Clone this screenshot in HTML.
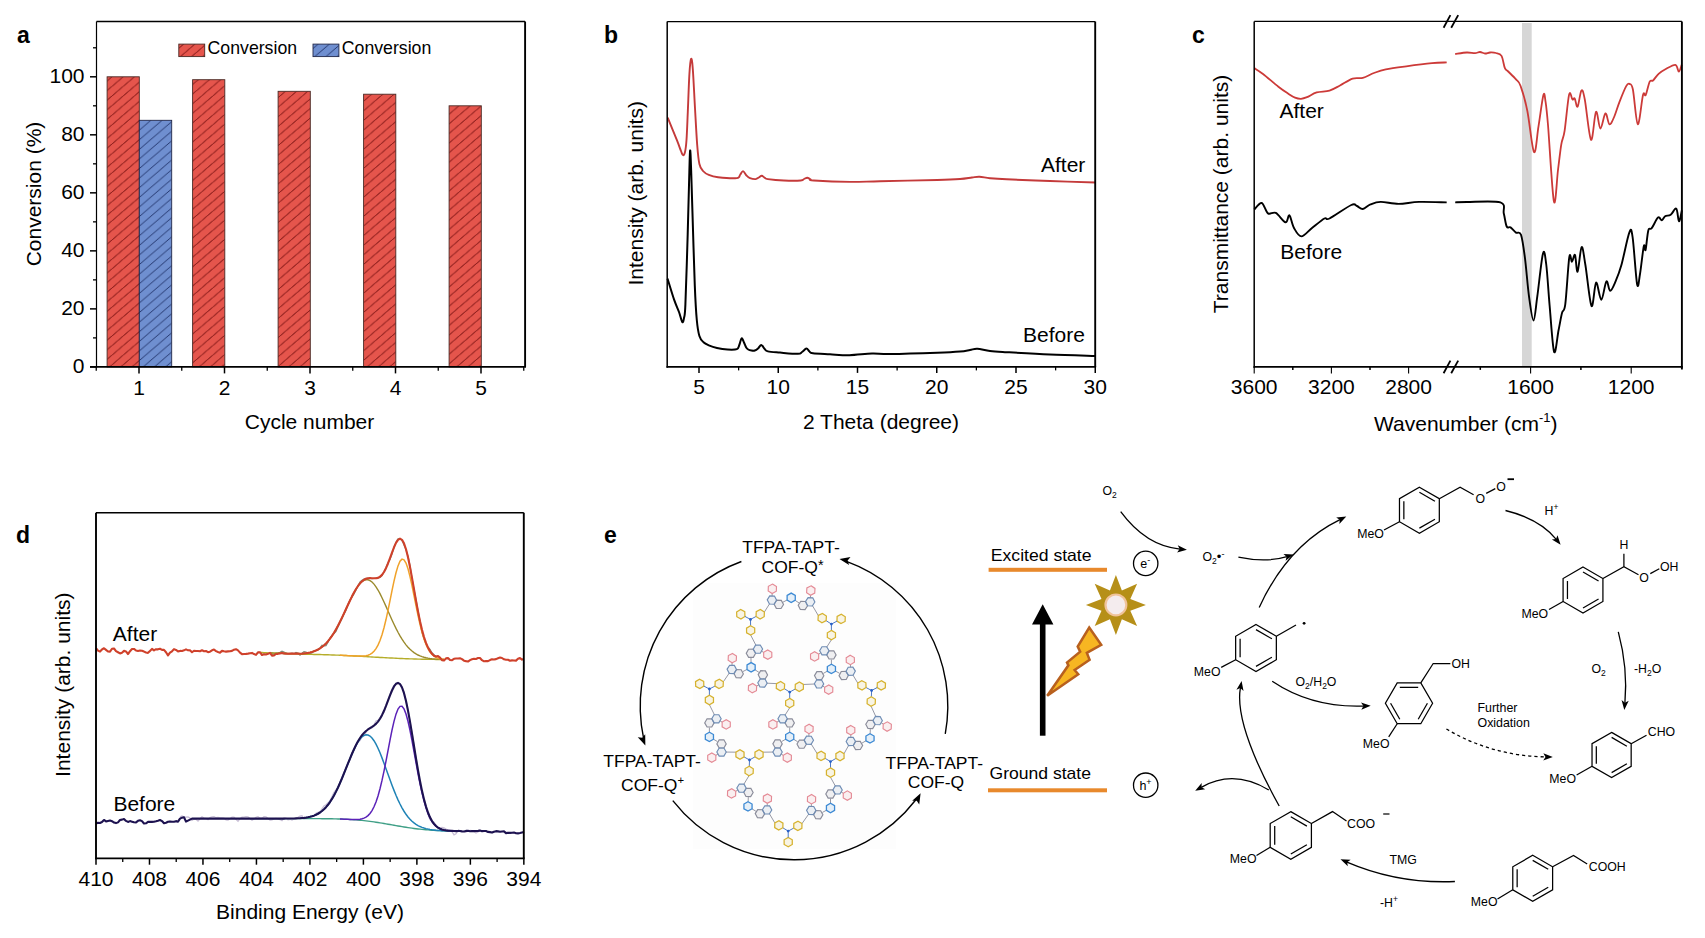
<!DOCTYPE html>
<html><head><meta charset="utf-8"><title>Figure</title>
<style>html,body{margin:0;padding:0;background:#fff;width:1705px;height:938px;overflow:hidden}svg{display:block}</style>
</head><body>
<svg width="1705" height="938" viewBox="0 0 1705 938" font-family='"Liberation Sans", sans-serif'>
<defs><pattern id="hr" patternUnits="userSpaceOnUse" width="11.2" height="9.6" patternTransform="translate(0,0)"><rect width="11.2" height="9.6" fill="#e5554c"/><path d="M-11.2,9.6 L11.2,-9.6 M0,9.6 L11.2,0 M0,19.2 L22.4,0 M-2.8,12 L13.9,-2.4" stroke="#8e1f1c" stroke-width="0.9" fill="none"/></pattern><pattern id="hb" patternUnits="userSpaceOnUse" width="11.2" height="9.6"><rect width="11.2" height="9.6" fill="#6f8fd0"/><path d="M0,9.6 L11.2,0 M-5.6,4.8 L5.6,-4.8 M5.6,14.4 L16.8,4.8" stroke="#1d2f66" stroke-width="0.9" fill="none"/></pattern></defs>
<rect x="107.1" y="76.8" width="32.2" height="290.1" fill="url(#hr)" stroke="#4a2a25" stroke-width="0.9"/>
<rect x="192.6" y="79.7" width="32.2" height="287.2" fill="url(#hr)" stroke="#4a2a25" stroke-width="0.9"/>
<rect x="278.1" y="91.31" width="32.2" height="275.59" fill="url(#hr)" stroke="#4a2a25" stroke-width="0.9"/>
<rect x="363.6" y="94.21" width="32.2" height="272.69" fill="url(#hr)" stroke="#4a2a25" stroke-width="0.9"/>
<rect x="449.1" y="105.81" width="32.2" height="261.09" fill="url(#hr)" stroke="#4a2a25" stroke-width="0.9"/>
<rect x="139.3" y="120.31" width="32.4" height="246.58" fill="url(#hb)" stroke="#22284a" stroke-width="0.9"/>
<line x1="96.5" y1="21.5" x2="525.1" y2="21.5" stroke="#000" stroke-width="1.3"/>
<line x1="525.1" y1="21.5" x2="525.1" y2="366.9" stroke="#000" stroke-width="1.9"/>
<line x1="96.5" y1="21.5" x2="96.5" y2="367.7" stroke="#000" stroke-width="1.2"/>
<line x1="90" y1="366.9" x2="526" y2="366.9" stroke="#000" stroke-width="1.7"/>
<line x1="90" y1="366.9" x2="96.5" y2="366.9" stroke="#000" stroke-width="1.5"/>
<text x="84.5" y="372.8" font-size="21" text-anchor="end" font-weight="normal" fill="#000">0</text>
<line x1="93" y1="337.89" x2="96.5" y2="337.89" stroke="#000" stroke-width="1.3"/>
<line x1="90" y1="308.88" x2="96.5" y2="308.88" stroke="#000" stroke-width="1.5"/>
<text x="84.5" y="314.78" font-size="21" text-anchor="end" font-weight="normal" fill="#000">20</text>
<line x1="93" y1="279.87" x2="96.5" y2="279.87" stroke="#000" stroke-width="1.3"/>
<line x1="90" y1="250.86" x2="96.5" y2="250.86" stroke="#000" stroke-width="1.5"/>
<text x="84.5" y="256.76" font-size="21" text-anchor="end" font-weight="normal" fill="#000">40</text>
<line x1="93" y1="221.85" x2="96.5" y2="221.85" stroke="#000" stroke-width="1.3"/>
<line x1="90" y1="192.84" x2="96.5" y2="192.84" stroke="#000" stroke-width="1.5"/>
<text x="84.5" y="198.74" font-size="21" text-anchor="end" font-weight="normal" fill="#000">60</text>
<line x1="93" y1="163.83" x2="96.5" y2="163.83" stroke="#000" stroke-width="1.3"/>
<line x1="90" y1="134.82" x2="96.5" y2="134.82" stroke="#000" stroke-width="1.5"/>
<text x="84.5" y="140.72" font-size="21" text-anchor="end" font-weight="normal" fill="#000">80</text>
<line x1="93" y1="105.81" x2="96.5" y2="105.81" stroke="#000" stroke-width="1.3"/>
<line x1="90" y1="76.8" x2="96.5" y2="76.8" stroke="#000" stroke-width="1.5"/>
<text x="84.5" y="82.7" font-size="21" text-anchor="end" font-weight="normal" fill="#000">100</text>
<line x1="93" y1="47.79" x2="96.5" y2="47.79" stroke="#000" stroke-width="1.3"/>
<line x1="139" y1="366.9" x2="139" y2="373.4" stroke="#000" stroke-width="1.5"/>
<text x="139" y="395" font-size="21" text-anchor="middle" font-weight="normal" fill="#000">1</text>
<line x1="224.5" y1="366.9" x2="224.5" y2="373.4" stroke="#000" stroke-width="1.5"/>
<text x="224.5" y="395" font-size="21" text-anchor="middle" font-weight="normal" fill="#000">2</text>
<line x1="310" y1="366.9" x2="310" y2="373.4" stroke="#000" stroke-width="1.5"/>
<text x="310" y="395" font-size="21" text-anchor="middle" font-weight="normal" fill="#000">3</text>
<line x1="395.5" y1="366.9" x2="395.5" y2="373.4" stroke="#000" stroke-width="1.5"/>
<text x="395.5" y="395" font-size="21" text-anchor="middle" font-weight="normal" fill="#000">4</text>
<line x1="481" y1="366.9" x2="481" y2="373.4" stroke="#000" stroke-width="1.5"/>
<text x="481" y="395" font-size="21" text-anchor="middle" font-weight="normal" fill="#000">5</text>
<line x1="96.25" y1="366.9" x2="96.25" y2="370.7" stroke="#000" stroke-width="1.3"/>
<line x1="181.75" y1="366.9" x2="181.75" y2="370.7" stroke="#000" stroke-width="1.3"/>
<line x1="267.25" y1="366.9" x2="267.25" y2="370.7" stroke="#000" stroke-width="1.3"/>
<line x1="352.75" y1="366.9" x2="352.75" y2="370.7" stroke="#000" stroke-width="1.3"/>
<line x1="438.25" y1="366.9" x2="438.25" y2="370.7" stroke="#000" stroke-width="1.3"/>
<line x1="523.75" y1="366.9" x2="523.75" y2="370.7" stroke="#000" stroke-width="1.3"/>
<text x="309.5" y="428.5" font-size="21" text-anchor="middle" font-weight="normal" fill="#000">Cycle number</text>
<text x="41.3" y="194" font-size="21" text-anchor="middle" font-weight="normal" fill="#000" transform="rotate(-90 41.3 194)">Conversion (%)</text>
<text x="17" y="43" font-size="23" text-anchor="start" font-weight="bold" fill="#000">a</text>
<rect x="178.8" y="44.1" width="25.9" height="12.5" fill="url(#hr)" stroke="#4a2a25" stroke-width="0.9"/>
<text x="207.6" y="53.7" font-size="17.7" text-anchor="start" font-weight="normal" fill="#000">Conversion</text>
<rect x="313" y="44.1" width="25.9" height="12.5" fill="url(#hb)" stroke="#22284a" stroke-width="0.9"/>
<text x="341.8" y="53.7" font-size="17.7" text-anchor="start" font-weight="normal" fill="#000">Conversion</text>
<path d="M667.7,117.7 C669.27,121.53 674.88,135.15 677.1,140.7 C679.32,146.25 680.02,148.58 681,151 C681.98,153.42 682.33,155.03 683,155.2 C683.67,155.37 684.42,154.53 685,152 C685.58,149.47 686.03,146.67 686.5,140 C686.97,133.33 687.32,122.98 687.8,112 C688.28,101.02 688.85,82.97 689.4,74.1 C689.95,65.23 690.53,59.65 691.1,58.8 C691.67,57.95 692.15,60.75 692.8,69 C693.45,77.25 694.27,95.63 695,108.3 C695.73,120.97 696.47,135.72 697.2,145 C697.93,154.28 698.43,159.67 699.4,164 C700.37,168.33 701.43,169.18 703,171 C704.57,172.82 706.28,173.87 708.8,174.9 C711.32,175.93 713.42,176.67 718.1,177.2 C722.78,177.73 733.25,178.47 736.9,178.1 C740.55,177.73 738.98,176.17 740,175 C741.02,173.83 741.92,171.02 743,171.1 C744.08,171.18 745.33,174.33 746.5,175.5 C747.67,176.67 748.47,177.5 750,178.1 C751.53,178.7 754.23,179.2 755.7,179.1 C757.17,179 757.78,178.05 758.8,177.5 C759.82,176.95 760.8,175.75 761.8,175.8 C762.8,175.85 763.78,177.25 764.8,177.8 C765.82,178.35 764.73,178.65 767.9,179.1 C771.07,179.55 778.33,180.27 783.8,180.5 C789.27,180.73 797.33,180.75 800.7,180.5 C804.07,180.25 802.9,179.47 804,179 C805.1,178.53 806.22,177.65 807.3,177.7 C808.38,177.75 809.42,178.83 810.5,179.3 C811.58,179.77 807.23,180.07 813.8,180.5 C820.37,180.93 838.87,181.78 849.9,181.9 C860.93,182.02 865.43,181.52 880,181.2 C894.57,180.88 923.97,180.37 937.3,180 C950.63,179.63 954.22,179.42 960,179 C965.78,178.58 968.75,177.87 972,177.5 C975.25,177.13 976.5,176.68 979.5,176.8 C982.5,176.92 985.47,177.78 990,178.2 C994.53,178.62 996.7,178.83 1006.7,179.3 C1016.7,179.77 1035.25,180.47 1050,181 C1064.75,181.53 1087.67,182.25 1095.2,182.5" stroke="#c43a3a" stroke-width="1.9" fill="none"/>
<path d="M667.5,278.6 C668.6,282.12 672.18,294.13 674.1,299.7 C676.02,305.27 677.63,308.28 679,312 C680.37,315.72 681.47,321 682.3,322 C683.13,323 683.48,320.93 684,318 C684.52,315.07 684.78,318.4 685.4,304.4 C686.02,290.4 687.1,253.9 687.7,234 C688.3,214.1 688.6,198.9 689,185 C689.4,171.1 689.73,152.77 690.1,150.6 C690.47,148.43 690.82,162.02 691.2,172 C691.58,181.98 691.8,191.57 692.4,210.5 C693,229.43 694.07,267.35 694.8,285.6 C695.53,303.85 696.03,311.6 696.8,320 C697.57,328.4 698.28,332.3 699.4,336 C700.52,339.7 701.93,340.65 703.5,342.2 C705.07,343.75 706.55,344.33 708.8,345.3 C711.05,346.27 713.88,347.3 717,348 C720.12,348.7 724.18,349.32 727.5,349.5 C730.82,349.68 734.93,349.85 736.9,349.1 C738.87,348.35 738.52,346.8 739.3,345 C740.08,343.2 740.82,338.72 741.6,338.3 C742.38,337.88 743.23,340.97 744,342.5 C744.77,344.03 745.5,346.33 746.2,347.5 C746.9,348.67 747.32,349 748.2,349.5 C749.08,350 750.4,350.33 751.5,350.5 C752.6,350.67 753.72,350.83 754.8,350.5 C755.88,350.17 756.92,349.43 758,348.5 C759.08,347.57 760.22,344.85 761.3,344.9 C762.38,344.95 763.4,347.72 764.5,348.8 C765.6,349.88 765.32,350.77 767.9,351.4 C770.48,352.03 775,352.2 780,352.6 C785,353 794.23,353.9 797.9,353.8 C801.57,353.7 800.58,352.87 802,352 C803.42,351.13 805.15,348.68 806.4,348.6 C807.65,348.52 808.42,350.72 809.5,351.5 C810.58,352.28 809.48,352.83 812.9,353.3 C816.32,353.77 823.9,353.98 830,354.3 C836.1,354.62 842.5,355.33 849.5,355.2 C856.5,355.07 865.25,353.7 872,353.5 C878.75,353.3 879.12,354.13 890,354 C900.88,353.87 925.63,353.12 937.3,352.7 C948.97,352.28 954.55,351.95 960,351.5 C965.45,351.05 967.12,350.45 970,350 C972.88,349.55 973.97,348.63 977.3,348.8 C980.63,348.97 985.1,350.43 990,351 C994.9,351.57 996.7,351.62 1006.7,352.2 C1016.7,352.78 1035.25,353.88 1050,354.5 C1064.75,355.12 1087.67,355.67 1095.2,355.9" stroke="#000" stroke-width="2" fill="none"/>
<line x1="667.2" y1="21.6" x2="1095.2" y2="21.6" stroke="#000" stroke-width="1.3"/>
<line x1="1095.2" y1="21.6" x2="1095.2" y2="366.9" stroke="#000" stroke-width="1.9"/>
<line x1="667.2" y1="21.6" x2="667.2" y2="367.7" stroke="#000" stroke-width="1.5"/>
<line x1="666.5" y1="366.9" x2="1096.1" y2="366.9" stroke="#000" stroke-width="1.9"/>
<line x1="699" y1="366.9" x2="699" y2="372.9" stroke="#000" stroke-width="1.5"/>
<text x="699" y="393.5" font-size="21" text-anchor="middle" font-weight="normal" fill="#000">5</text>
<line x1="778.25" y1="366.9" x2="778.25" y2="372.9" stroke="#000" stroke-width="1.5"/>
<text x="778.25" y="393.5" font-size="21" text-anchor="middle" font-weight="normal" fill="#000">10</text>
<line x1="857.5" y1="366.9" x2="857.5" y2="372.9" stroke="#000" stroke-width="1.5"/>
<text x="857.5" y="393.5" font-size="21" text-anchor="middle" font-weight="normal" fill="#000">15</text>
<line x1="936.75" y1="366.9" x2="936.75" y2="372.9" stroke="#000" stroke-width="1.5"/>
<text x="936.75" y="393.5" font-size="21" text-anchor="middle" font-weight="normal" fill="#000">20</text>
<line x1="1016" y1="366.9" x2="1016" y2="372.9" stroke="#000" stroke-width="1.5"/>
<text x="1016" y="393.5" font-size="21" text-anchor="middle" font-weight="normal" fill="#000">25</text>
<line x1="1095.25" y1="366.9" x2="1095.25" y2="372.9" stroke="#000" stroke-width="1.5"/>
<text x="1095.25" y="393.5" font-size="21" text-anchor="middle" font-weight="normal" fill="#000">30</text>
<line x1="738.62" y1="366.9" x2="738.62" y2="370.4" stroke="#000" stroke-width="1.3"/>
<line x1="817.88" y1="366.9" x2="817.88" y2="370.4" stroke="#000" stroke-width="1.3"/>
<line x1="897.12" y1="366.9" x2="897.12" y2="370.4" stroke="#000" stroke-width="1.3"/>
<line x1="976.38" y1="366.9" x2="976.38" y2="370.4" stroke="#000" stroke-width="1.3"/>
<line x1="1055.62" y1="366.9" x2="1055.62" y2="370.4" stroke="#000" stroke-width="1.3"/>
<text x="881" y="428.5" font-size="21" text-anchor="middle" font-weight="normal" fill="#000">2 Theta (degree)</text>
<text x="643.2" y="193.3" font-size="21" text-anchor="middle" font-weight="normal" fill="#000" transform="rotate(-90 643.2 193.3)">Intensity (arb. units)</text>
<text x="604" y="43" font-size="23" text-anchor="start" font-weight="bold" fill="#000">b</text>
<text x="1041" y="171.8" font-size="21" text-anchor="start" font-weight="normal" fill="#000">After</text>
<text x="1023" y="342.4" font-size="21" text-anchor="start" font-weight="normal" fill="#000">Before</text>
<rect x="1522" y="23" width="9.7" height="343" fill="#d6d6d6"/>
<path d="M1254.5,68.3 C1255.92,69.25 1259.02,70.93 1263,74 C1266.98,77.07 1274.23,83.45 1278.4,86.7 C1282.57,89.95 1285.23,91.68 1288,93.5 C1290.77,95.32 1292.83,96.72 1295,97.6 C1297.17,98.48 1299,98.87 1301,98.8 C1303,98.73 1304.38,98.27 1307,97.2 C1309.62,96.13 1312.95,93.5 1316.7,92.4 C1320.45,91.3 1325.62,91.75 1329.5,90.6 C1333.38,89.45 1336.15,87.5 1340,85.5 C1343.85,83.5 1348.8,79.88 1352.6,78.6 C1356.4,77.32 1359.23,78.73 1362.8,77.8 C1366.37,76.87 1370.17,74.4 1374,73 C1377.83,71.6 1380.42,70.52 1385.8,69.4 C1391.18,68.28 1398.6,67.33 1406.3,66.3 C1414,65.27 1425.27,63.85 1432,63.2 C1438.73,62.55 1444.25,62.53 1446.7,62.4" stroke="#cc3a38" stroke-width="1.8" fill="none"/>
<path d="M1455.2,54 C1457.15,53.75 1463.6,52.63 1466.9,52.5 C1470.2,52.37 1472.82,53.28 1475,53.2 C1477.18,53.12 1478.33,51.95 1480,52 C1481.67,52.05 1483.33,53.42 1485,53.5 C1486.67,53.58 1488.17,52.58 1490,52.5 C1491.83,52.42 1494.08,52.43 1496,53 C1497.92,53.57 1500.02,53.37 1501.5,55.9 C1502.98,58.43 1503.78,65.6 1504.9,68.2 C1506.02,70.8 1506.35,69.63 1508.2,71.5 C1510.05,73.37 1513.93,76.98 1516,79.4 C1518.07,81.82 1518.72,80.78 1520.6,86 C1522.48,91.22 1525.07,99.7 1527.3,110.7 C1529.53,121.7 1532.13,149.38 1534,152 C1535.87,154.62 1536.93,135.9 1538.5,126.4 C1540.07,116.9 1542.22,99.07 1543.4,95 C1544.58,90.93 1544.83,97 1545.6,102 C1546.37,107 1546.62,108.43 1548,125 C1549.38,141.57 1552.23,193.9 1553.9,201.4 C1555.57,208.9 1556.77,179.52 1558,170 C1559.23,160.48 1560.2,150.82 1561.3,144.3 C1562.4,137.78 1563.3,139.18 1564.6,130.9 C1565.9,122.62 1567.78,99.83 1569.1,94.6 C1570.42,89.37 1571.57,98.87 1572.5,99.5 C1573.43,100.13 1573.85,97.2 1574.7,98.4 C1575.55,99.6 1576.48,108 1577.6,106.7 C1578.72,105.4 1580.2,91.8 1581.4,90.6 C1582.6,89.4 1583.2,91.3 1584.8,99.5 C1586.4,107.7 1589.13,137.73 1591,139.8 C1592.87,141.87 1594.43,113.77 1596,111.9 C1597.57,110.03 1598.83,128.35 1600.4,128.6 C1601.97,128.85 1603.9,114.13 1605.4,113.4 C1606.9,112.67 1607.98,123.52 1609.4,124.2 C1610.82,124.88 1612.22,121.23 1613.9,117.5 C1615.58,113.77 1617.45,107.03 1619.5,101.8 C1621.55,96.57 1624.53,89.08 1626.2,86.1 C1627.87,83.12 1628.38,83.33 1629.5,83.9 C1630.62,84.47 1631.52,82.78 1632.9,89.5 C1634.28,96.22 1636.12,123.28 1637.8,124.2 C1639.48,125.12 1641.68,99.87 1643,95 C1644.32,90.13 1644.58,97.23 1645.7,95 C1646.82,92.77 1648.48,84.02 1649.7,81.6 C1650.92,79.18 1651.52,81.8 1653,80.5 C1654.48,79.2 1656.53,75.67 1658.6,73.8 C1660.67,71.93 1662.6,70.8 1665.4,69.3 C1668.2,67.8 1673.17,64.42 1675.4,64.8 C1677.63,65.18 1677.75,71.6 1678.8,71.6 C1679.85,71.6 1681.22,65.93 1681.7,64.8" stroke="#cc3a38" stroke-width="1.8" fill="none"/>
<path d="M1254.2,209.5 C1255.45,208.42 1259.4,202.35 1261.7,203 C1264,203.65 1265.65,211.75 1268,213.4 C1270.35,215.05 1272.88,211.42 1275.8,212.9 C1278.72,214.38 1283.23,221.88 1285.5,222.3 C1287.77,222.72 1287.98,214.45 1289.4,215.4 C1290.82,216.35 1292,224.5 1294,228 C1296,231.5 1298.4,236.4 1301.4,236.4 C1304.4,236.4 1308.17,230.98 1312,228 C1315.83,225.02 1321.48,220.08 1324.4,218.5 C1327.32,216.92 1325.02,220.75 1329.5,218.5 C1333.98,216.25 1346.72,207.08 1351.3,205 C1355.88,202.92 1355.08,205.33 1357,206 C1358.92,206.67 1360.55,209.27 1362.8,209 C1365.05,208.73 1367.52,205.58 1370.5,204.4 C1373.48,203.22 1376.02,201.98 1380.7,201.9 C1385.38,201.82 1392.22,203.9 1398.6,203.9 C1404.98,203.9 1410.98,202.15 1419,201.9 C1427.02,201.65 1442.08,202.32 1446.7,202.4" stroke="#000" stroke-width="1.9" fill="none"/>
<path d="M1455.2,202.4 C1457.15,202.33 1459.37,202 1466.9,202 C1474.43,202 1494.25,200.47 1500.4,202.4 C1506.55,204.33 1502.75,209.58 1503.8,213.6 C1504.85,217.62 1505.58,224.2 1506.7,226.5 C1507.82,228.8 1508.95,226.38 1510.5,227.4 C1512.05,228.42 1514.25,231.37 1516,232.6 C1517.75,233.83 1519.5,230.52 1521,234.8 C1522.5,239.08 1523.67,248.03 1525,258.3 C1526.33,268.57 1527.58,286.03 1529,296.4 C1530.42,306.77 1532.12,320.5 1533.5,320.5 C1534.88,320.5 1535.72,307.58 1537.3,296.4 C1538.88,285.22 1541.5,258.63 1543,253.4 C1544.5,248.17 1545.2,256.35 1546.3,265 C1547.4,273.65 1548.3,290.83 1549.6,305.3 C1550.9,319.77 1552.6,347.68 1554.1,351.8 C1555.6,355.92 1557.28,336.47 1558.6,330 C1559.92,323.53 1560.88,317.3 1562,313 C1563.12,308.7 1564.08,313.5 1565.3,304.2 C1566.52,294.9 1568.18,264.28 1569.3,257.2 C1570.42,250.12 1571.05,262.07 1572,261.7 C1572.95,261.33 1574.07,253.33 1575,255 C1575.93,256.67 1576.5,273.02 1577.6,271.7 C1578.7,270.38 1580.3,248.22 1581.6,247.1 C1582.9,245.98 1583.75,255.18 1585.4,265 C1587.05,274.82 1589.72,303.07 1591.5,306 C1593.28,308.93 1594.47,283.63 1596.1,282.6 C1597.73,281.57 1599.58,300.02 1601.3,299.8 C1603.02,299.58 1604.92,282.78 1606.4,281.3 C1607.88,279.82 1608.63,290.98 1610.2,290.9 C1611.77,290.82 1613.93,285.1 1615.8,280.8 C1617.67,276.5 1619.15,273.13 1621.4,265.1 C1623.65,257.07 1627.43,237.27 1629.3,232.6 C1631.17,227.93 1631.3,228.5 1632.6,237.1 C1633.9,245.7 1635.87,278.05 1637.1,284.2 C1638.33,290.35 1638.88,280.35 1640,274 C1641.12,267.65 1642.87,250.12 1643.8,246.1 C1644.73,242.08 1644.85,252.52 1645.6,249.9 C1646.35,247.28 1647.28,234.02 1648.3,230.4 C1649.32,226.78 1650.08,230.33 1651.7,228.2 C1653.32,226.07 1656.32,218.92 1658,217.6 C1659.68,216.28 1660.62,220.52 1661.8,220.3 C1662.98,220.08 1663.62,217.23 1665.1,216.3 C1666.58,215.37 1668.83,215.97 1670.7,214.7 C1672.57,213.43 1674.92,207.58 1676.3,208.7 C1677.68,209.82 1678.07,221.15 1679,221.4 C1679.93,221.65 1681.42,212.07 1681.9,210.2" stroke="#000" stroke-width="1.9" fill="none"/>
<line x1="1254.2" y1="21.4" x2="1681.9" y2="21.4" stroke="#000" stroke-width="1.3"/>
<line x1="1681.9" y1="21.4" x2="1681.9" y2="369.6" stroke="#000" stroke-width="1.9"/>
<line x1="1254.2" y1="21.4" x2="1254.2" y2="367.7" stroke="#000" stroke-width="1.5"/>
<line x1="1253.5" y1="366.9" x2="1682.8" y2="366.9" stroke="#000" stroke-width="1.9"/>
<line x1="1443.6" y1="27.7" x2="1450.4" y2="15.1" stroke="#000" stroke-width="1.8"/>
<line x1="1451.2" y1="27.7" x2="1458.2" y2="15.1" stroke="#000" stroke-width="1.8"/>
<line x1="1443.6" y1="373.2" x2="1450.4" y2="360.6" stroke="#000" stroke-width="1.8"/>
<line x1="1451.2" y1="373.2" x2="1458.2" y2="360.6" stroke="#000" stroke-width="1.8"/>
<line x1="1254.2" y1="366.9" x2="1254.2" y2="373.6" stroke="#000" stroke-width="1.1"/>
<text x="1254.2" y="394.2" font-size="21" text-anchor="middle" font-weight="normal" fill="#000">3600</text>
<line x1="1331.4" y1="366.9" x2="1331.4" y2="373.6" stroke="#000" stroke-width="1.1"/>
<text x="1331.4" y="394.2" font-size="21" text-anchor="middle" font-weight="normal" fill="#000">3200</text>
<line x1="1408.6" y1="366.9" x2="1408.6" y2="373.6" stroke="#000" stroke-width="1.1"/>
<text x="1408.6" y="394.2" font-size="21" text-anchor="middle" font-weight="normal" fill="#000">2800</text>
<line x1="1292.8" y1="366.9" x2="1292.8" y2="369.9" stroke="#000" stroke-width="1.5"/>
<line x1="1370" y1="366.9" x2="1370" y2="369.9" stroke="#000" stroke-width="1.5"/>
<line x1="1530.6" y1="366.9" x2="1530.6" y2="373.6" stroke="#000" stroke-width="1.1"/>
<text x="1530.6" y="394.2" font-size="21" text-anchor="middle" font-weight="normal" fill="#000">1600</text>
<line x1="1631.2" y1="366.9" x2="1631.2" y2="373.6" stroke="#000" stroke-width="1.1"/>
<text x="1631.2" y="394.2" font-size="21" text-anchor="middle" font-weight="normal" fill="#000">1200</text>
<line x1="1480.3" y1="366.9" x2="1480.3" y2="369.9" stroke="#000" stroke-width="1.5"/>
<line x1="1580.9" y1="366.9" x2="1580.9" y2="369.9" stroke="#000" stroke-width="1.5"/>
<text x="1374" y="430.8" font-size="21">Wavenumber (cm<tspan font-size="13" dy="-9">-1</tspan><tspan dy="9">)</tspan></text>
<text x="1227.8" y="194" font-size="21" text-anchor="middle" font-weight="normal" fill="#000" transform="rotate(-90 1227.8 194)">Transmittance (arb. units)</text>
<text x="1192" y="43" font-size="23" text-anchor="start" font-weight="bold" fill="#000">c</text>
<text x="1279.5" y="118" font-size="21" text-anchor="start" font-weight="normal" fill="#000">After</text>
<text x="1280.3" y="259.4" font-size="21" text-anchor="start" font-weight="normal" fill="#000">Before</text>
<path d="M256,654.34 L258,652.37 L260,652.28 L262,654.55 L264,654.01 L266,654.24 L268,653.76 L270,652.91 L272,654.76 L274,654.84 L276,653.12 L278,653.01 L280,652.23 L282,651.23 L284,651.95 L286,653.09 L288,653.98 L290,653.6 L292,653.23 L294,653.64 L296,652.34 L298,653.35 L300,655.15 L302,653.21 L304,651.75 L306,652.09 L308,652.93 L310,653.29 L312,652.98 L314,650.91 L316,650.39 L318,649.96 L320,647.79 L322,645.31 L324,645.9 L326,645.61 L328,642.31 L330,638.15 L332,635.4 L334,633.47 L336,631.47 L338,626.82 L340,622.41 L342,618.84 L344,614.19 L346,610.27 L348,604.54 L350,600.1 L352,597.15 L354,593.96 L356,589.97 L358,585.89 L360,581.88 L362,580.14 L364,578.99 L366,578.36 L368,578.47 L370,578.19 L372,578.72 L374,578.49 L376,578.08 L378,577.96 L380,577.35 L382,575.52 L384,571.82 L386,567.54 L388,562.79 L390,559.39 L392,554.05 L394,547.42 L396,542.14 L398,538.81 L400,538.55 L402,540.55 L404,545.11 L406,549.8 L408,556.14 L410,565.31 L412,578.36 L414,589.33 L416,599.44 L418,610.65 L420,620.84 L422,632.24 L424,638.86 L426,643.58 L428,647.04 L430,649.44 L432,652.76 L434,654.63 L436,656.54 L438,656.23 L440,657.61 L442,660.04 L444,660.44" stroke="#7d8a78" stroke-width="1.2" fill="none"/>
<path d="M260,652.45 L262,652.55 L264,652.66 L266,652.76 L268,652.85 L270,652.95 L272,653.04 L274,653.12 L276,653.2 L278,653.28 L280,653.35 L282,653.42 L284,653.49 L286,653.56 L288,653.62 L290,653.68 L292,653.73 L294,653.79 L296,653.84 L298,653.89 L300,654.2 L302,654.23 L304,654.26 L306,654.28 L308,654.32 L310,654.35 L312,654.39 L314,654.43 L316,654.47 L318,654.52 L320,654.57 L322,654.62 L324,654.68 L326,654.74 L328,654.8 L330,654.87 L332,654.94 L334,655.01 L336,655.09 L338,655.17 L340,655.26 L342,655.34 L344,655.44 L346,655.53 L348,655.63 L350,655.73 L352,655.83 L354,655.94 L356,656.05 L358,656.16 L360,656.27 L362,656.39 L364,656.5 L366,656.62 L368,656.73 L370,656.85 L372,656.97 L374,657.08 L376,657.2 L378,657.31 L380,657.43 L382,657.54 L384,657.65 L386,657.76 L388,657.87 L390,657.97 L392,658.07 L394,658.17 L396,658.26 L398,658.36 L400,658.44 L402,658.53 L404,658.61 L406,658.69 L408,658.76 L410,658.83 L412,658.9 L414,658.96 L416,659.02 L418,659.08 L420,659.13 L422,659.18 L424,659.23 L426,659.27 L428,659.31 L430,659.35 L432,659.38 L434,659.42 L436,659.44 L438,659.47 L440,659.5 L442,659.52 L444,659.54" stroke="#b5ad2a" stroke-width="1.4" fill="none"/>
<path d="M270,652.95 L272,653.03 L274,653.12 L276,653.2 L278,653.27 L280,653.34 L282,653.4 L284,653.46 L286,653.51 L288,653.55 L290,653.59 L292,653.6 L294,653.61 L296,653.59 L298,653.55 L300,653.74 L302,653.6 L304,653.41 L306,653.17 L308,652.85 L310,652.44 L312,651.92 L314,651.28 L316,650.48 L318,649.51 L320,648.34 L322,646.95 L324,645.3 L326,643.39 L328,641.19 L330,638.69 L332,635.89 L334,632.78 L336,629.37 L338,625.69 L340,621.77 L342,617.65 L344,613.39 L346,609.05 L348,604.71 L350,600.46 L352,596.37 L354,592.55 L356,589.09 L358,586.06 L360,583.55 L362,581.62 L364,580.33 L366,579.72 L368,579.8 L370,580.58 L372,582.03 L374,584.13 L376,586.81 L378,590.02 L380,593.67 L382,597.68 L384,601.95 L386,606.4 L388,610.94 L390,615.48 L392,619.95 L394,624.27 L396,628.39 L398,632.27 L400,635.88 L402,639.18 L404,642.17 L406,644.84 L408,647.21 L410,649.28 L412,651.07 L414,652.61 L416,653.91 L418,655 L420,655.91 L422,656.66 L424,657.27 L426,657.77 L428,658.16 L430,658.48 L432,658.73 L434,658.93 L436,659.09 L438,659.21 L440,659.31 L442,659.38 L444,659.44" stroke="#9a8a2c" stroke-width="1.4" fill="none"/>
<path d="M340,655.26 L342,655.34 L344,655.44 L346,655.53 L348,655.63 L350,655.72 L352,655.82 L354,655.91 L356,656 L358,656.06 L360,656.09 L362,656.06 L364,655.94 L366,655.67 L368,655.18 L370,654.37 L372,653.11 L374,651.27 L376,648.67 L378,645.15 L380,640.54 L382,634.74 L384,627.72 L386,619.54 L388,610.4 L390,600.64 L392,590.71 L394,581.2 L396,572.73 L398,565.9 L400,561.25 L402,559.15 L404,559.79 L406,563.1 L408,568.84 L410,576.56 L412,585.69 L414,595.6 L416,605.68 L418,615.41 L420,624.36 L422,632.25 L424,638.94 L426,644.41 L428,648.72 L430,652.01 L432,654.44 L434,656.17 L436,657.38 L438,658.19 L440,658.72 L442,659.06 L444,659.28" stroke="#f0a22a" stroke-width="1.5" fill="none"/>
<path d="M96,648.12 L98,650.65 L100,651.58 L102,649.45 L104,648.24 L106,649.9 L108,651.55 L110,651.63 L112,648.72 L114,648.5 L116,651.15 L118,652.27 L120,653.41 L122,652.67 L124,650.87 L126,651.47 L128,654.03 L130,651.19 L132,649.06 L134,648.93 L136,650.52 L138,650.95 L140,650.45 L142,650.78 L144,651.58 L146,652.51 L148,652.86 L150,650.9 L152,648.88 L154,650.42 L156,649.21 L158,649.35 L160,648.79 L162,649.85 L164,649.88 L166,652.29 L168,655.43 L170,652.61 L172,651.26 L174,649.12 L176,649.95 L178,651.35 L180,650.91 L182,651.03 L184,650.32 L186,649.34 L188,650.32 L190,650.33 L192,652.27 L194,650.74 L196,650.94 L198,650.95 L200,651.21 L202,650.22 L204,651.18 L206,651 L208,652.11 L210,651.66 L212,650.29 L214,649.54 L216,651.15 L218,652.04 L220,652.64 L222,650.89 L224,651.3 L226,651.64 L228,651.36 L230,651.23 L232,650.9 L234,649.72 L236,649.18 L238,650.41 L240,652.59 L242,654.19 L244,654.03 L246,653.89 L248,653.62 L250,653.27 L252,652.92 L254,654.07 L256,654.87 L258,652.38 L260,652.24 L262,655.05 L264,654.34 L266,654.54 L268,653.85 L270,652.91 L272,655.66 L274,655.45 L276,653.98 L278,653.84 L280,653.39 L282,653.02 L284,653.37 L286,653.67 L288,653.72 L290,653.59 L292,653.6 L294,653.61 L296,653.59 L298,653.55 L300,653.74 L302,653.6 L304,653.41 L306,653.17 L308,652.85 L310,652.44 L312,651.92 L314,651.28 L316,650.48 L318,649.51 L320,648.34 L322,646.95 L324,645.3 L326,643.39 L328,641.19 L330,638.69 L332,635.89 L334,632.78 L336,629.37 L338,625.69 L340,621.77 L342,617.65 L344,613.39 L346,609.05 L348,604.71 L350,600.45 L352,596.36 L354,592.53 L356,589.03 L358,585.96 L360,583.37 L362,581.3 L364,579.77 L366,578.77 L368,578.25 L370,578.1 L372,578.18 L374,578.32 L376,578.29 L378,577.85 L380,576.78 L382,574.88 L384,572.02 L386,568.18 L388,563.47 L390,558.15 L392,552.59 L394,547.3 L396,542.86 L398,539.82 L400,538.68 L402,539.8 L404,543.34 L406,549.26 L408,557.29 L410,567.01 L412,577.86 L414,589.24 L416,600.57 L418,611.33 L420,621.13 L422,629.72 L424,636.98 L426,642.9 L428,647.57 L430,651.14 L432,653.79 L434,655.69 L436,656.5 L438,656.07 L440,657.53 L442,660.14 L444,660.56 L446,658.4 L448,658.09 L450,660.05 L452,660.23 L454,658.81 L456,658.57 L458,658.53 L460,658.27 L462,659.1 L464,660.69 L466,661.14 L468,661.54 L470,660.13 L472,659.27 L474,658.79 L476,658.95 L478,658.07 L480,658.04 L482,660.17 L484,661.31 L486,661.15 L488,661.1 L490,660.07 L492,659.19 L494,659.47 L496,659.1 L498,658.21 L500,657.58 L502,658 L504,659.33 L506,659.69 L508,659.74 L510,660.8 L512,660.4 L514,660.57 L516,660.64 L518,658.81 L520,658.05 L522,659.59 L524,659.15" stroke="#cf412b" stroke-width="2.1" fill="none" stroke-linejoin="round"/>
<path d="M180,816.8 L182,815.92 L184,816.78 L186,817.11 L188,816.94 L190,818.12 L192,820.33 L194,819.02 L196,819.24 L198,821.07 L200,818.71 L202,816.73 L204,818.04 L206,818.3 L208,819.65 L210,817.57 L212,816.84 L214,816.56 L216,817.71 L218,817.44 L220,817.99 L222,817.91 L224,818.11 L226,819.81 L228,820.06 L230,818.69 L232,817.18 L234,817.12 L236,819.42 L238,821.28 L240,818.69 L242,817.25 L244,817.07 L246,816.7 L248,816.98 L250,818.54 L252,820.17 L254,818.95 L256,817.39 L258,816.63 L260,818.22 L262,818.18 L264,816.76 L266,816.86 L268,818.52 L270,819.99 L272,819.79 L274,818.95 L276,818.43 L278,818.83 L280,819.53 L282,820.65 L284,817.97 L286,818.19 L288,819.77 L290,819.26 L292,820.02 L294,819.01 L296,818.4 L298,817.41 L300,816.1 L302,815.75 L304,818.78 L306,817.93 L308,817.08 L310,816.89 L312,816.22 L314,815.42 L316,813.29 L318,812.28 L320,811.93 L322,808.98 L324,805.99 L326,804.69 L328,802.79 L330,800.74 L332,796.41 L334,792.32 L336,789.93 L338,787.62 L340,782.14 L342,777.01 L344,772.15 L346,767.68 L348,763.68 L350,759.85 L352,752.9 L354,750.15 L356,745.43 L358,741.83 L360,740.57 L362,736.69 L364,735.45 L366,732.5 L368,728.86 L370,728.63 L372,727.92 L374,724.8 L376,720.99 L378,720.27 L380,717.97 L382,714.49 L384,712.4 L386,706.16 L388,699.97 L390,694.55 L392,689.16 L394,685.33 L396,683.76 L398,683.13 L400,683.59 L402,686.67 L404,691.74 L406,700.76 L408,710.03 L410,721.27 L412,732.48 L414,745.18 L416,757.93 L418,769.77 L420,783.42 L422,791.72 L424,798.99 L426,806.33 L428,814.62 L430,819.62 L432,821.38 L434,822.22 L436,825.13 L438,827.87 L440,827.85 L442,827.42 L444,827.86 L446,829.01 L448,830.07 L450,830.03 L452,831.73 L454,834.87 L456,833.73 L458,830.68 L460,831.12 L462,831.29 L464,831.4 L466,832.16 L468,831.05 L470,830.52 L472,830.58 L474,831.41 L476,832.92 L478,832.06 L480,829.77" stroke="#c9bfd6" stroke-width="1.3" fill="none"/>
<path d="M250,818.6 L252,818.6 L254,818.6 L256,818.6 L258,818.6 L260,818.6 L262,818.6 L264,818.6 L266,818.6 L268,818.6 L270,818.6 L272,818.6 L274,818.6 L276,818.6 L278,818.6 L280,818.6 L282,818.6 L284,818.6 L286,818.6 L288,818.6 L290,818.6 L292,818.6 L294,818.6 L296,818.6 L298,818.61 L300,818.61 L302,818.61 L304,818.61 L306,818.61 L308,818.62 L310,818.62 L312,818.63 L314,818.64 L316,818.65 L318,818.66 L320,818.67 L322,818.68 L324,818.7 L326,818.72 L328,818.75 L330,818.78 L332,818.81 L334,818.85 L336,818.9 L338,818.95 L340,819.02 L342,819.09 L344,819.17 L346,819.25 L348,819.35 L350,819.47 L352,819.59 L354,819.73 L356,819.88 L358,820.04 L360,820.22 L362,820.42 L364,820.63 L366,820.86 L368,821.1 L370,821.35 L372,821.62 L374,821.9 L376,822.2 L378,822.51 L380,822.83 L382,823.16 L384,823.5 L386,823.84 L388,824.19 L390,824.54 L392,824.9 L394,825.26 L396,825.61 L398,825.96 L400,826.3 L402,826.64 L404,826.97 L406,827.29 L408,827.6 L410,827.9 L412,828.18 L414,828.45 L416,828.7 L418,828.94 L420,829.17 L422,829.38 L424,829.58 L426,829.76 L428,829.92 L430,830.07 L432,830.21 L434,830.33 L436,830.45 L438,830.55 L440,830.63 L442,830.71 L444,830.78 L446,830.85 L448,830.9 L450,830.95 L452,830.99 L454,831.02 L456,831.05 L458,831.08 L460,831.1" stroke="#3f9f86" stroke-width="1.4" fill="none"/>
<path d="M300,818.2 L302,818.05 L304,817.86 L306,817.6 L308,817.27 L310,816.84 L312,816.3 L314,815.63 L316,814.79 L318,813.76 L320,812.51 L322,811.02 L324,809.25 L326,807.17 L328,804.77 L330,802.02 L332,798.91 L334,795.44 L336,791.63 L338,787.48 L340,783.04 L342,778.35 L344,773.48 L346,768.5 L348,763.51 L350,758.59 L352,753.87 L354,749.45 L356,745.43 L358,741.93 L360,739.04 L362,736.85 L364,735.41 L366,734.78 L368,734.98 L370,736.05 L372,737.97 L374,740.68 L376,744.13 L378,748.21 L380,752.82 L382,757.85 L384,763.18 L386,768.69 L388,774.26 L390,779.79 L392,785.19 L394,790.37 L396,795.26 L398,799.83 L400,804.02 L402,807.84 L404,811.25 L406,814.29 L408,816.95 L410,819.26 L412,821.24 L414,822.94 L416,824.37 L418,825.56 L420,826.56 L422,827.39 L424,828.07 L426,828.63 L428,829.08 L430,829.46 L432,829.76 L434,830.01 L436,830.22 L438,830.38 L440,830.52 L442,830.64 L444,830.73 L446,830.81 L448,830.88 L450,830.93 L452,830.98 L454,831.01 L456,831.05 L458,831.07 L460,831.1" stroke="#1f83b6" stroke-width="1.5" fill="none"/>
<path d="M340,819.01 L342,819.08 L344,819.15 L346,819.23 L348,819.31 L350,819.39 L352,819.45 L354,819.49 L356,819.48 L358,819.39 L360,819.18 L362,818.79 L364,818.13 L366,817.11 L368,815.6 L370,813.48 L372,810.59 L374,806.78 L376,801.93 L378,795.94 L380,788.76 L382,780.45 L384,771.13 L386,761.05 L388,750.56 L390,740.1 L392,730.19 L394,721.37 L396,714.17 L398,709.06 L400,706.37 L402,706.31 L404,708.89 L406,713.98 L408,721.26 L410,730.29 L412,740.57 L414,751.55 L416,762.69 L418,773.52 L420,783.66 L422,792.84 L424,800.88 L426,807.72 L428,813.37 L430,817.91 L432,821.48 L434,824.2 L436,826.23 L438,827.71 L440,828.77 L442,829.52 L444,830.03 L446,830.38 L448,830.62 L450,830.78 L452,830.89 L454,830.97 L456,831.02 L458,831.06 L460,831.09" stroke="#5b22b8" stroke-width="1.5" fill="none"/>
<path d="M96,823.5 L98,822.73 L100,823 L102,822.01 L104,819.98 L106,821.4 L108,820.9 L110,820.45 L112,821.16 L114,822.54 L116,823.11 L118,822.37 L120,820.05 L122,819.63 L124,818.94 L126,820.89 L128,821.92 L130,821.11 L132,821.67 L134,822.26 L136,822.43 L138,820.82 L140,820.22 L142,821.14 L144,823.5 L146,823.27 L148,821.92 L150,821.83 L152,821.86 L154,821.78 L156,821.34 L158,820.76 L160,819.99 L162,821.08 L164,823.25 L166,822.73 L168,821.78 L170,821.42 L172,821.71 L174,821.76 L176,821.13 L178,821.66 L180,818.66 L182,817.65 L184,817.2 L186,821.6 L188,820.6 L190,819.6 L192,818.6 L194,818.6 L196,818.6 L198,818.6 L200,818.6 L202,818.6 L204,818.6 L206,818.6 L208,818.6 L210,818.6 L212,818.6 L214,818.6 L216,818.6 L218,818.6 L220,818.6 L222,818.6 L224,818.6 L226,818.6 L228,818.6 L230,818.6 L232,818.6 L234,818.6 L236,818.6 L238,818.6 L240,818.6 L242,818.6 L244,818.6 L246,818.6 L248,818.6 L250,818.6 L252,818.6 L254,818.6 L256,818.6 L258,818.6 L260,818.6 L262,818.6 L264,818.6 L266,818.6 L268,818.6 L270,818.6 L272,818.6 L274,818.6 L276,818.6 L278,818.59 L280,818.59 L282,818.59 L284,818.58 L286,818.57 L288,818.55 L290,818.53 L292,818.5 L294,818.45 L296,818.39 L298,818.31 L300,818.2 L302,818.05 L304,817.86 L306,817.6 L308,817.27 L310,816.84 L312,816.3 L314,815.63 L316,814.79 L318,813.76 L320,812.51 L322,811.02 L324,809.25 L326,807.17 L328,804.77 L330,802.02 L332,798.91 L334,795.44 L336,791.63 L338,787.48 L340,783.03 L342,778.34 L344,773.47 L346,768.48 L348,763.46 L350,758.52 L352,753.73 L354,749.21 L356,745.04 L358,741.28 L360,738 L362,735.21 L364,732.91 L366,731.03 L368,729.49 L370,728.18 L372,726.93 L374,725.56 L376,723.85 L378,721.63 L380,718.75 L382,715.14 L384,710.81 L386,705.9 L388,700.63 L390,695.35 L392,690.48 L394,686.48 L396,683.83 L398,682.93 L400,684.09 L402,687.5 L404,693.18 L406,700.98 L408,710.61 L410,721.66 L412,733.64 L414,746.03 L416,758.35 L418,770.14 L420,781.05 L422,790.85 L424,799.37 L426,806.59 L428,812.53 L430,817.3 L432,821.03 L434,823.88 L436,826 L438,827.55 L440,828.66 L442,829.44 L444,829.98 L446,830.35 L448,830.6 L450,830.77 L452,830.88 L454,830.96 L456,831.12 L458,830.92 L460,831.03 L462,831.4 L464,831.57 L466,830.91 L468,830.82 L470,831.21 L472,830.93 L474,831.14 L476,831.02 L478,830.86 L480,830.61 L482,831.17 L484,830.99 L486,831.06 L488,831.91 L490,832.12 L492,832.58 L494,831.72 L496,831.14 L498,831.39 L500,831.78 L502,831.43 L504,831.42 L506,833.13 L508,832.75 L510,832.88 L512,832.69 L514,832.6 L516,833.24 L518,833.35 L520,833 L522,832.45 L524,831.94" stroke="#1d1250" stroke-width="2.1" fill="none" stroke-linejoin="round"/>
<line x1="96" y1="512.8" x2="523.8" y2="512.8" stroke="#000" stroke-width="1.5"/>
<line x1="523.8" y1="512.8" x2="523.8" y2="858.4" stroke="#000" stroke-width="1.9"/>
<line x1="96" y1="512.8" x2="96" y2="859.2" stroke="#000" stroke-width="1.9"/>
<line x1="95.3" y1="858.4" x2="524.7" y2="858.4" stroke="#000" stroke-width="1.9"/>
<line x1="523.84" y1="858.4" x2="523.84" y2="864.7" stroke="#000" stroke-width="1.5"/>
<text x="523.84" y="885.6" font-size="21" text-anchor="middle" font-weight="normal" fill="#000">394</text>
<line x1="497.1" y1="858.4" x2="497.1" y2="861.9" stroke="#000" stroke-width="1.3"/>
<line x1="470.36" y1="858.4" x2="470.36" y2="864.7" stroke="#000" stroke-width="1.5"/>
<text x="470.36" y="885.6" font-size="21" text-anchor="middle" font-weight="normal" fill="#000">396</text>
<line x1="443.62" y1="858.4" x2="443.62" y2="861.9" stroke="#000" stroke-width="1.3"/>
<line x1="416.88" y1="858.4" x2="416.88" y2="864.7" stroke="#000" stroke-width="1.5"/>
<text x="416.88" y="885.6" font-size="21" text-anchor="middle" font-weight="normal" fill="#000">398</text>
<line x1="390.14" y1="858.4" x2="390.14" y2="861.9" stroke="#000" stroke-width="1.3"/>
<line x1="363.4" y1="858.4" x2="363.4" y2="864.7" stroke="#000" stroke-width="1.5"/>
<text x="363.4" y="885.6" font-size="21" text-anchor="middle" font-weight="normal" fill="#000">400</text>
<line x1="336.66" y1="858.4" x2="336.66" y2="861.9" stroke="#000" stroke-width="1.3"/>
<line x1="309.92" y1="858.4" x2="309.92" y2="864.7" stroke="#000" stroke-width="1.5"/>
<text x="309.92" y="885.6" font-size="21" text-anchor="middle" font-weight="normal" fill="#000">402</text>
<line x1="283.18" y1="858.4" x2="283.18" y2="861.9" stroke="#000" stroke-width="1.3"/>
<line x1="256.44" y1="858.4" x2="256.44" y2="864.7" stroke="#000" stroke-width="1.5"/>
<text x="256.44" y="885.6" font-size="21" text-anchor="middle" font-weight="normal" fill="#000">404</text>
<line x1="229.7" y1="858.4" x2="229.7" y2="861.9" stroke="#000" stroke-width="1.3"/>
<line x1="202.96" y1="858.4" x2="202.96" y2="864.7" stroke="#000" stroke-width="1.5"/>
<text x="202.96" y="885.6" font-size="21" text-anchor="middle" font-weight="normal" fill="#000">406</text>
<line x1="176.22" y1="858.4" x2="176.22" y2="861.9" stroke="#000" stroke-width="1.3"/>
<line x1="149.48" y1="858.4" x2="149.48" y2="864.7" stroke="#000" stroke-width="1.5"/>
<text x="149.48" y="885.6" font-size="21" text-anchor="middle" font-weight="normal" fill="#000">408</text>
<line x1="122.74" y1="858.4" x2="122.74" y2="861.9" stroke="#000" stroke-width="1.3"/>
<line x1="96" y1="858.4" x2="96" y2="864.7" stroke="#000" stroke-width="1.5"/>
<text x="96" y="885.6" font-size="21" text-anchor="middle" font-weight="normal" fill="#000">410</text>
<text x="310" y="919.4" font-size="21" text-anchor="middle" font-weight="normal" fill="#000">Binding Energy (eV)</text>
<text x="70.3" y="684.7" font-size="21" text-anchor="middle" font-weight="normal" fill="#000" transform="rotate(-90 70.3 684.7)">Intensity (arb. units)</text>
<text x="16" y="543" font-size="23" text-anchor="start" font-weight="bold" fill="#000">d</text>
<text x="112.8" y="640.8" font-size="21" text-anchor="start" font-weight="normal" fill="#000">After</text>
<text x="113.4" y="810.8" font-size="21" text-anchor="start" font-weight="normal" fill="#000">Before</text>
<text x="604" y="543" font-size="23" text-anchor="start" font-weight="bold" fill="#000">e</text>
<rect x="693" y="583" width="203" height="266" fill="#fdfdfd"/>
<line x1="787.05" y1="600" x2="782.99" y2="602.16" stroke="#8a8c9a" stroke-width="0.9"/>
<line x1="769.68" y1="603.62" x2="764.37" y2="612.04" stroke="#8a8c9a" stroke-width="0.9"/>
<line x1="756.06" y1="616.45" x2="750.5" y2="619.4" stroke="#3a6ac0" stroke-width="0.9"/>
<path d="M774.14,604.2 L776.63,600.21 L781.33,600.38 L783.53,604.53 L781.04,608.51 L776.34,608.35 Z" fill="#8a8c9a" fill-opacity="0.12" stroke="#8a8c9a" stroke-width="1.15"/>
<path d="M767.24,599.88 L769.73,595.89 L774.43,596.06 L776.63,600.21 L774.14,604.2 L769.44,604.03 Z" fill="#6f8db5" fill-opacity="0.12" stroke="#6f8db5" stroke-width="1.15"/>
<line x1="772.08" y1="595.98" x2="772.17" y2="593.48" stroke="#8a8c9a" stroke-width="0.9"/>
<path d="M772.5,584.08 L776.49,586.58 L776.32,591.27 L772.17,593.48 L768.18,590.98 L768.35,586.29 Z" fill="#e48a95" fill-opacity="0.12" stroke="#e48a95" stroke-width="1.15"/>
<path d="M756.06,616.45 L756.23,611.75 L760.38,609.55 L764.37,612.04 L764.2,616.74 L760.05,618.94 Z" fill="#d6b22e" fill-opacity="0.12" stroke="#d6b22e" stroke-width="1.25"/>
<line x1="795.13" y1="600.37" x2="798.98" y2="602.89" stroke="#8a8c9a" stroke-width="0.9"/>
<line x1="812.33" y1="605.44" x2="818.26" y2="615.5" stroke="#8a8c9a" stroke-width="0.9"/>
<line x1="826.13" y1="620.65" x2="831.4" y2="624.1" stroke="#3a6ac0" stroke-width="0.9"/>
<path d="M805.04,609.66 L800.34,609.4 L798.22,605.2 L800.8,601.27 L805.49,601.53 L807.61,605.73 Z" fill="#8a8c9a" fill-opacity="0.12" stroke="#8a8c9a" stroke-width="1.15"/>
<path d="M812.3,605.99 L807.61,605.73 L805.49,601.53 L808.06,597.6 L812.75,597.86 L814.87,602.06 Z" fill="#6f8db5" fill-opacity="0.12" stroke="#6f8db5" stroke-width="1.15"/>
<line x1="810.41" y1="597.73" x2="810.55" y2="595.23" stroke="#8a8c9a" stroke-width="0.9"/>
<path d="M811.07,585.85 L815,588.42 L814.74,593.11 L810.55,595.23 L806.61,592.66 L806.88,587.97 Z" fill="#e48a95" fill-opacity="0.12" stroke="#e48a95" stroke-width="1.15"/>
<path d="M826.13,620.65 L821.93,622.77 L818,620.2 L818.26,615.5 L822.46,613.39 L826.39,615.96 Z" fill="#d6b22e" fill-opacity="0.12" stroke="#d6b22e" stroke-width="1.25"/>
<line x1="751.04" y1="662.6" x2="750.98" y2="658" stroke="#8a8c9a" stroke-width="0.9"/>
<line x1="755.99" y1="645.38" x2="750.7" y2="635.1" stroke="#8a8c9a" stroke-width="0.9"/>
<line x1="750.58" y1="625.7" x2="750.5" y2="619.4" stroke="#3a6ac0" stroke-width="0.9"/>
<path d="M753.22,649.2 L755.62,653.24 L753.33,657.34 L748.63,657.4 L746.23,653.36 L748.52,649.26 Z" fill="#8a8c9a" fill-opacity="0.12" stroke="#8a8c9a" stroke-width="1.15"/>
<path d="M760.22,645.04 L762.62,649.08 L760.32,653.18 L755.62,653.24 L753.22,649.2 L755.52,645.1 Z" fill="#6f8db5" fill-opacity="0.12" stroke="#6f8db5" stroke-width="1.15"/>
<line x1="761.47" y1="651.13" x2="763.65" y2="652.36" stroke="#8a8c9a" stroke-width="0.9"/>
<path d="M771.85,656.95 L767.81,659.35 L763.71,657.06 L763.65,652.36 L767.69,649.96 L771.79,652.25 Z" fill="#e48a95" fill-opacity="0.12" stroke="#e48a95" stroke-width="1.15"/>
<path d="M750.58,625.7 L754.68,628 L754.74,632.7 L750.7,635.1 L746.6,632.8 L746.54,628.1 Z" fill="#d6b22e" fill-opacity="0.12" stroke="#d6b22e" stroke-width="1.25"/>
<line x1="831.4" y1="664.2" x2="831.4" y2="659.6" stroke="#8a8c9a" stroke-width="0.9"/>
<line x1="826.63" y1="647.27" x2="831.4" y2="639.8" stroke="#8a8c9a" stroke-width="0.9"/>
<line x1="831.4" y1="630.4" x2="831.4" y2="624.1" stroke="#3a6ac0" stroke-width="0.9"/>
<path d="M833.75,650.83 L836.1,654.9 L833.75,658.97 L829.05,658.97 L826.7,654.9 L829.05,650.83 Z" fill="#8a8c9a" fill-opacity="0.12" stroke="#8a8c9a" stroke-width="1.15"/>
<path d="M826.7,646.76 L829.05,650.83 L826.7,654.9 L822,654.9 L819.65,650.83 L822,646.76 Z" fill="#6f8db5" fill-opacity="0.12" stroke="#6f8db5" stroke-width="1.15"/>
<line x1="820.83" y1="652.86" x2="818.66" y2="654.11" stroke="#8a8c9a" stroke-width="0.9"/>
<path d="M810.52,658.81 L810.52,654.11 L814.59,651.76 L818.66,654.11 L818.66,658.81 L814.59,661.16 Z" fill="#e48a95" fill-opacity="0.12" stroke="#e48a95" stroke-width="1.15"/>
<path d="M831.4,630.4 L835.47,632.75 L835.47,637.45 L831.4,639.8 L827.33,637.45 L827.33,632.75 Z" fill="#d6b22e" fill-opacity="0.12" stroke="#d6b22e" stroke-width="1.25"/>
<line x1="746.93" y1="669.47" x2="742.85" y2="671.59" stroke="#8a8c9a" stroke-width="0.9"/>
<line x1="729.42" y1="672.88" x2="723.33" y2="681.75" stroke="#8a8c9a" stroke-width="0.9"/>
<line x1="714.99" y1="686.09" x2="709.4" y2="689" stroke="#3a6ac0" stroke-width="0.9"/>
<path d="M733.99,673.56 L736.51,669.59 L741.21,669.8 L743.38,673.97 L740.85,677.93 L736.16,677.73 Z" fill="#8a8c9a" fill-opacity="0.12" stroke="#8a8c9a" stroke-width="1.15"/>
<path d="M727.12,669.18 L729.65,665.22 L734.34,665.42 L736.51,669.59 L733.99,673.56 L729.29,673.35 Z" fill="#6f8db5" fill-opacity="0.12" stroke="#6f8db5" stroke-width="1.15"/>
<line x1="731.99" y1="665.32" x2="732.1" y2="662.82" stroke="#8a8c9a" stroke-width="0.9"/>
<path d="M732.51,653.43 L736.48,655.96 L736.27,660.65 L732.1,662.82 L728.14,660.3 L728.35,655.6 Z" fill="#e48a95" fill-opacity="0.12" stroke="#e48a95" stroke-width="1.15"/>
<path d="M714.99,686.09 L715.19,681.4 L719.36,679.23 L723.33,681.75 L723.12,686.45 L718.95,688.62 Z" fill="#d6b22e" fill-opacity="0.12" stroke="#d6b22e" stroke-width="1.25"/>
<line x1="755.05" y1="669.84" x2="758.92" y2="672.33" stroke="#8a8c9a" stroke-width="0.9"/>
<line x1="766.72" y1="683.18" x2="776.49" y2="683.61" stroke="#8a8c9a" stroke-width="0.9"/>
<line x1="784.4" y1="688.69" x2="789.7" y2="692.1" stroke="#3a6ac0" stroke-width="0.9"/>
<path d="M765.03,679.04 L760.34,678.82 L758.18,674.64 L760.72,670.69 L765.42,670.91 L767.57,675.09 Z" fill="#8a8c9a" fill-opacity="0.12" stroke="#8a8c9a" stroke-width="1.15"/>
<path d="M764.65,687.18 L759.95,686.95 L757.8,682.78 L760.34,678.82 L765.03,679.04 L767.19,683.22 Z" fill="#6f8db5" fill-opacity="0.12" stroke="#6f8db5" stroke-width="1.15"/>
<line x1="758.87" y1="684.86" x2="756.65" y2="686.01" stroke="#8a8c9a" stroke-width="0.9"/>
<path d="M748.3,690.32 L748.52,685.62 L752.7,683.47 L756.65,686.01 L756.43,690.7 L752.25,692.86 Z" fill="#e48a95" fill-opacity="0.12" stroke="#e48a95" stroke-width="1.15"/>
<path d="M784.4,688.69 L780.22,690.85 L776.27,688.31 L776.49,683.61 L780.67,681.46 L784.62,684 Z" fill="#d6b22e" fill-opacity="0.12" stroke="#d6b22e" stroke-width="1.25"/>
<line x1="827.29" y1="671.19" x2="823.27" y2="673.42" stroke="#8a8c9a" stroke-width="0.9"/>
<line x1="814.81" y1="684.01" x2="803.42" y2="684.47" stroke="#8a8c9a" stroke-width="0.9"/>
<line x1="795.21" y1="689.04" x2="789.7" y2="692.1" stroke="#3a6ac0" stroke-width="0.9"/>
<path d="M814.47,675.63 L816.88,671.6 L821.58,671.67 L823.87,675.78 L821.45,679.81 L816.75,679.74 Z" fill="#8a8c9a" fill-opacity="0.12" stroke="#8a8c9a" stroke-width="1.15"/>
<path d="M814.34,683.77 L816.75,679.74 L821.45,679.81 L823.74,683.92 L821.32,687.95 L816.62,687.88 Z" fill="#6f8db5" fill-opacity="0.12" stroke="#6f8db5" stroke-width="1.15"/>
<line x1="822.53" y1="685.94" x2="824.67" y2="687.22" stroke="#8a8c9a" stroke-width="0.9"/>
<path d="M832.74,692.05 L828.63,694.33 L824.6,691.92 L824.67,687.22 L828.78,684.94 L832.81,687.35 Z" fill="#e48a95" fill-opacity="0.12" stroke="#e48a95" stroke-width="1.15"/>
<path d="M795.21,689.04 L795.28,684.34 L799.39,682.05 L803.42,684.47 L803.34,689.17 L799.24,691.45 Z" fill="#d6b22e" fill-opacity="0.12" stroke="#d6b22e" stroke-width="1.25"/>
<line x1="835.54" y1="671.12" x2="839.59" y2="673.3" stroke="#8a8c9a" stroke-width="0.9"/>
<line x1="852.84" y1="674.87" x2="857.77" y2="683.07" stroke="#8a8c9a" stroke-width="0.9"/>
<line x1="866.05" y1="687.52" x2="871.6" y2="690.5" stroke="#3a6ac0" stroke-width="0.9"/>
<path d="M846.21,679.52 L841.51,679.67 L839.03,675.67 L841.26,671.53 L845.96,671.39 L848.43,675.38 Z" fill="#8a8c9a" fill-opacity="0.12" stroke="#8a8c9a" stroke-width="1.15"/>
<path d="M853.13,675.24 L848.43,675.38 L845.96,671.39 L848.18,667.25 L852.88,667.1 L855.35,671.1 Z" fill="#6f8db5" fill-opacity="0.12" stroke="#6f8db5" stroke-width="1.15"/>
<line x1="850.53" y1="667.17" x2="850.45" y2="664.68" stroke="#8a8c9a" stroke-width="0.9"/>
<path d="M850.17,655.28 L854.31,657.5 L854.45,662.2 L850.45,664.68 L846.31,662.45 L846.17,657.75 Z" fill="#e48a95" fill-opacity="0.12" stroke="#e48a95" stroke-width="1.15"/>
<path d="M866.05,687.52 L862.05,689.99 L857.91,687.77 L857.77,683.07 L861.77,680.6 L865.91,682.82 Z" fill="#d6b22e" fill-opacity="0.12" stroke="#d6b22e" stroke-width="1.25"/>
<line x1="709.4" y1="732.2" x2="709.4" y2="727.6" stroke="#8a8c9a" stroke-width="0.9"/>
<line x1="714.56" y1="715.04" x2="709.4" y2="704.7" stroke="#8a8c9a" stroke-width="0.9"/>
<line x1="709.4" y1="695.3" x2="709.4" y2="689" stroke="#3a6ac0" stroke-width="0.9"/>
<path d="M711.75,718.83 L714.1,722.9 L711.75,726.97 L707.05,726.97 L704.7,722.9 L707.05,718.83 Z" fill="#8a8c9a" fill-opacity="0.12" stroke="#8a8c9a" stroke-width="1.15"/>
<path d="M718.8,714.76 L721.15,718.83 L718.8,722.9 L714.1,722.9 L711.75,718.83 L714.1,714.76 Z" fill="#6f8db5" fill-opacity="0.12" stroke="#6f8db5" stroke-width="1.15"/>
<line x1="719.97" y1="720.86" x2="722.14" y2="722.11" stroke="#8a8c9a" stroke-width="0.9"/>
<path d="M730.28,726.81 L726.21,729.16 L722.14,726.81 L722.14,722.11 L726.21,719.76 L730.28,722.11 Z" fill="#e48a95" fill-opacity="0.12" stroke="#e48a95" stroke-width="1.15"/>
<path d="M709.4,695.3 L713.47,697.65 L713.47,702.35 L709.4,704.7 L705.33,702.35 L705.33,697.65 Z" fill="#d6b22e" fill-opacity="0.12" stroke="#d6b22e" stroke-width="1.25"/>
<line x1="789.7" y1="732.2" x2="789.7" y2="727.6" stroke="#8a8c9a" stroke-width="0.9"/>
<line x1="784.93" y1="715.27" x2="789.7" y2="707.8" stroke="#8a8c9a" stroke-width="0.9"/>
<line x1="789.7" y1="698.4" x2="789.7" y2="692.1" stroke="#3a6ac0" stroke-width="0.9"/>
<path d="M792.05,718.83 L794.4,722.9 L792.05,726.97 L787.35,726.97 L785,722.9 L787.35,718.83 Z" fill="#8a8c9a" fill-opacity="0.12" stroke="#8a8c9a" stroke-width="1.15"/>
<path d="M785,714.76 L787.35,718.83 L785,722.9 L780.3,722.9 L777.95,718.83 L780.3,714.76 Z" fill="#6f8db5" fill-opacity="0.12" stroke="#6f8db5" stroke-width="1.15"/>
<line x1="779.13" y1="720.86" x2="776.96" y2="722.11" stroke="#8a8c9a" stroke-width="0.9"/>
<path d="M768.82,726.81 L768.82,722.11 L772.89,719.76 L776.96,722.11 L776.96,726.81 L772.89,729.16 Z" fill="#e48a95" fill-opacity="0.12" stroke="#e48a95" stroke-width="1.15"/>
<path d="M789.7,698.4 L793.77,700.75 L793.77,705.45 L789.7,707.8 L785.63,705.45 L785.63,700.75 Z" fill="#d6b22e" fill-opacity="0.12" stroke="#d6b22e" stroke-width="1.25"/>
<line x1="870.16" y1="733.7" x2="870.31" y2="729.11" stroke="#8a8c9a" stroke-width="0.9"/>
<line x1="875.89" y1="716.73" x2="871.08" y2="706.19" stroke="#8a8c9a" stroke-width="0.9"/>
<line x1="871.39" y1="696.8" x2="871.6" y2="690.5" stroke="#3a6ac0" stroke-width="0.9"/>
<path d="M872.95,720.42 L875.16,724.56 L872.68,728.55 L867.98,728.4 L865.77,724.25 L868.25,720.26 Z" fill="#8a8c9a" fill-opacity="0.12" stroke="#8a8c9a" stroke-width="1.15"/>
<path d="M880.13,716.59 L882.35,720.73 L879.86,724.72 L875.16,724.56 L872.95,720.42 L875.44,716.43 Z" fill="#6f8db5" fill-opacity="0.12" stroke="#6f8db5" stroke-width="1.15"/>
<line x1="881.1" y1="722.73" x2="883.23" y2="724.05" stroke="#8a8c9a" stroke-width="0.9"/>
<path d="M891.21,729.02 L887.06,731.23 L883.07,728.75 L883.23,724.05 L887.37,721.84 L891.36,724.32 Z" fill="#e48a95" fill-opacity="0.12" stroke="#e48a95" stroke-width="1.15"/>
<path d="M871.39,696.8 L875.38,699.28 L875.22,703.98 L871.08,706.19 L867.09,703.71 L867.24,699.01 Z" fill="#d6b22e" fill-opacity="0.12" stroke="#d6b22e" stroke-width="1.25"/>
<line x1="713.47" y1="739.25" x2="717.46" y2="741.54" stroke="#8a8c9a" stroke-width="0.9"/>
<line x1="725.77" y1="752.07" x2="735.9" y2="752.16" stroke="#8a8c9a" stroke-width="0.9"/>
<line x1="744.04" y1="756.86" x2="749.5" y2="760" stroke="#3a6ac0" stroke-width="0.9"/>
<path d="M723.89,747.96 L719.19,747.96 L716.83,743.89 L719.18,739.82 L723.88,739.82 L726.23,743.88 Z" fill="#8a8c9a" fill-opacity="0.12" stroke="#8a8c9a" stroke-width="1.15"/>
<path d="M723.89,756.1 L719.19,756.1 L716.84,752.03 L719.19,747.96 L723.89,747.96 L726.24,752.02 Z" fill="#6f8db5" fill-opacity="0.12" stroke="#6f8db5" stroke-width="1.15"/>
<line x1="718.02" y1="754.07" x2="715.85" y2="755.32" stroke="#8a8c9a" stroke-width="0.9"/>
<path d="M707.72,760.03 L707.71,755.33 L711.78,752.97 L715.85,755.32 L715.86,760.02 L711.79,762.37 Z" fill="#e48a95" fill-opacity="0.12" stroke="#e48a95" stroke-width="1.15"/>
<path d="M744.04,756.86 L739.97,759.21 L735.9,756.86 L735.9,752.16 L739.96,749.81 L744.04,752.16 Z" fill="#d6b22e" fill-opacity="0.12" stroke="#d6b22e" stroke-width="1.25"/>
<line x1="785.62" y1="739.24" x2="781.64" y2="741.53" stroke="#8a8c9a" stroke-width="0.9"/>
<line x1="773.31" y1="752.06" x2="763.11" y2="752.18" stroke="#8a8c9a" stroke-width="0.9"/>
<line x1="754.96" y1="756.86" x2="749.5" y2="760" stroke="#3a6ac0" stroke-width="0.9"/>
<path d="M772.86,743.87 L775.22,739.8 L779.92,739.81 L782.26,743.88 L779.9,747.95 L775.2,747.94 Z" fill="#8a8c9a" fill-opacity="0.12" stroke="#8a8c9a" stroke-width="1.15"/>
<path d="M772.84,752.01 L775.2,747.94 L779.9,747.95 L782.24,752.03 L779.89,756.09 L775.19,756.08 Z" fill="#6f8db5" fill-opacity="0.12" stroke="#6f8db5" stroke-width="1.15"/>
<line x1="781.07" y1="754.06" x2="783.23" y2="755.31" stroke="#8a8c9a" stroke-width="0.9"/>
<path d="M791.36,760.03 L787.28,762.37 L783.22,760.01 L783.23,755.31 L787.3,752.97 L791.37,755.33 Z" fill="#e48a95" fill-opacity="0.12" stroke="#e48a95" stroke-width="1.15"/>
<path d="M754.96,756.86 L754.97,752.16 L759.05,749.82 L763.11,752.18 L763.1,756.88 L759.03,759.22 Z" fill="#d6b22e" fill-opacity="0.12" stroke="#d6b22e" stroke-width="1.25"/>
<line x1="793.72" y1="739.33" x2="797.66" y2="741.72" stroke="#8a8c9a" stroke-width="0.9"/>
<line x1="811.05" y1="743.82" x2="817.07" y2="753.47" stroke="#8a8c9a" stroke-width="0.9"/>
<line x1="825.11" y1="758.34" x2="830.5" y2="761.6" stroke="#3a6ac0" stroke-width="0.9"/>
<path d="M803.94,748.27 L799.24,748.17 L796.98,744.05 L799.41,740.03 L804.11,740.13 L806.38,744.25 Z" fill="#8a8c9a" fill-opacity="0.12" stroke="#8a8c9a" stroke-width="1.15"/>
<path d="M811.07,744.35 L806.38,744.25 L804.11,740.13 L806.54,736.11 L811.24,736.21 L813.51,740.33 Z" fill="#6f8db5" fill-opacity="0.12" stroke="#6f8db5" stroke-width="1.15"/>
<line x1="808.89" y1="736.16" x2="808.95" y2="733.66" stroke="#8a8c9a" stroke-width="0.9"/>
<path d="M809.14,724.26 L813.16,726.69 L813.06,731.39 L808.95,733.66 L804.93,731.22 L805.02,726.53 Z" fill="#e48a95" fill-opacity="0.12" stroke="#e48a95" stroke-width="1.15"/>
<path d="M825.11,758.34 L820.99,760.6 L816.97,758.17 L817.07,753.47 L821.19,751.2 L825.21,753.64 Z" fill="#d6b22e" fill-opacity="0.12" stroke="#d6b22e" stroke-width="1.25"/>
<line x1="865.95" y1="740.78" x2="861.98" y2="743.11" stroke="#8a8c9a" stroke-width="0.9"/>
<line x1="848.78" y1="745.16" x2="844.04" y2="753.65" stroke="#8a8c9a" stroke-width="0.9"/>
<line x1="835.93" y1="758.41" x2="830.5" y2="761.6" stroke="#3a6ac0" stroke-width="0.9"/>
<path d="M853.23,745.53 L855.55,741.44 L860.25,741.4 L862.63,745.46 L860.31,749.54 L855.61,749.58 Z" fill="#8a8c9a" fill-opacity="0.12" stroke="#8a8c9a" stroke-width="1.15"/>
<path d="M846.15,741.51 L848.47,737.42 L853.17,737.39 L855.55,741.44 L853.23,745.53 L848.53,745.56 Z" fill="#6f8db5" fill-opacity="0.12" stroke="#6f8db5" stroke-width="1.15"/>
<line x1="850.82" y1="737.4" x2="850.8" y2="734.9" stroke="#8a8c9a" stroke-width="0.9"/>
<path d="M850.73,725.5 L854.82,727.82 L854.85,732.52 L850.8,734.9 L846.71,732.58 L846.68,727.88 Z" fill="#e48a95" fill-opacity="0.12" stroke="#e48a95" stroke-width="1.15"/>
<path d="M835.93,758.41 L835.9,753.71 L839.95,751.33 L844.04,753.65 L844.07,758.35 L840.02,760.73 Z" fill="#d6b22e" fill-opacity="0.12" stroke="#d6b22e" stroke-width="1.25"/>
<line x1="748.15" y1="801.7" x2="748.3" y2="797.1" stroke="#8a8c9a" stroke-width="0.9"/>
<line x1="743.71" y1="784.48" x2="748.99" y2="775.69" stroke="#8a8c9a" stroke-width="0.9"/>
<line x1="749.3" y1="766.3" x2="749.5" y2="760" stroke="#3a6ac0" stroke-width="0.9"/>
<path d="M750.93,788.42 L753.15,792.56 L750.67,796.55 L745.97,796.4 L743.75,792.26 L746.24,788.26 Z" fill="#8a8c9a" fill-opacity="0.12" stroke="#8a8c9a" stroke-width="1.15"/>
<path d="M744.02,784.12 L746.24,788.26 L743.76,792.26 L739.06,792.1 L736.84,787.96 L739.32,783.97 Z" fill="#6f8db5" fill-opacity="0.12" stroke="#6f8db5" stroke-width="1.15"/>
<line x1="737.95" y1="790.03" x2="735.74" y2="791.21" stroke="#8a8c9a" stroke-width="0.9"/>
<path d="M727.46,795.65 L727.61,790.95 L731.75,788.73 L735.74,791.21 L735.59,795.91 L731.45,798.13 Z" fill="#e48a95" fill-opacity="0.12" stroke="#e48a95" stroke-width="1.15"/>
<path d="M749.3,766.3 L753.29,768.78 L753.14,773.47 L748.99,775.69 L745,773.21 L745.15,768.51 Z" fill="#d6b22e" fill-opacity="0.12" stroke="#d6b22e" stroke-width="1.25"/>
<line x1="830.5" y1="803.3" x2="830.5" y2="798.7" stroke="#8a8c9a" stroke-width="0.9"/>
<line x1="835.49" y1="786.24" x2="830.5" y2="777.3" stroke="#8a8c9a" stroke-width="0.9"/>
<line x1="830.5" y1="767.9" x2="830.5" y2="761.6" stroke="#3a6ac0" stroke-width="0.9"/>
<path d="M832.85,789.93 L835.2,794 L832.85,798.07 L828.15,798.07 L825.8,794 L828.15,789.93 Z" fill="#8a8c9a" fill-opacity="0.12" stroke="#8a8c9a" stroke-width="1.15"/>
<path d="M839.9,785.86 L842.25,789.93 L839.9,794 L835.2,794 L832.85,789.93 L835.2,785.86 Z" fill="#6f8db5" fill-opacity="0.12" stroke="#6f8db5" stroke-width="1.15"/>
<line x1="841.07" y1="791.96" x2="843.24" y2="793.21" stroke="#8a8c9a" stroke-width="0.9"/>
<path d="M851.38,797.91 L847.31,800.26 L843.24,797.91 L843.24,793.21 L847.31,790.86 L851.38,793.21 Z" fill="#e48a95" fill-opacity="0.12" stroke="#e48a95" stroke-width="1.15"/>
<path d="M830.5,767.9 L834.57,770.25 L834.57,774.95 L830.5,777.3 L826.43,774.95 L826.43,770.25 Z" fill="#d6b22e" fill-opacity="0.12" stroke="#d6b22e" stroke-width="1.25"/>
<line x1="752" y1="808.86" x2="755.92" y2="811.27" stroke="#8a8c9a" stroke-width="0.9"/>
<line x1="769.25" y1="813.49" x2="774.82" y2="822.88" stroke="#8a8c9a" stroke-width="0.9"/>
<line x1="782.83" y1="827.8" x2="788.2" y2="831.1" stroke="#3a6ac0" stroke-width="0.9"/>
<path d="M762.17,817.86 L757.47,817.73 L755.23,813.6 L757.69,809.6 L762.39,809.72 L764.63,813.86 Z" fill="#8a8c9a" fill-opacity="0.12" stroke="#8a8c9a" stroke-width="1.15"/>
<path d="M769.32,813.99 L764.63,813.86 L762.39,809.72 L764.85,805.72 L769.55,805.85 L771.79,809.98 Z" fill="#6f8db5" fill-opacity="0.12" stroke="#6f8db5" stroke-width="1.15"/>
<line x1="767.2" y1="805.78" x2="767.27" y2="803.29" stroke="#8a8c9a" stroke-width="0.9"/>
<path d="M767.52,793.89 L771.53,796.35 L771.4,801.05 L767.27,803.29 L763.26,800.83 L763.39,796.13 Z" fill="#e48a95" fill-opacity="0.12" stroke="#e48a95" stroke-width="1.15"/>
<path d="M782.83,827.8 L778.7,830.04 L774.69,827.58 L774.82,822.88 L778.96,820.64 L782.96,823.1 Z" fill="#d6b22e" fill-opacity="0.12" stroke="#d6b22e" stroke-width="1.25"/>
<line x1="826.38" y1="810.25" x2="822.34" y2="812.46" stroke="#8a8c9a" stroke-width="0.9"/>
<line x1="808.82" y1="813.93" x2="801.98" y2="823.58" stroke="#8a8c9a" stroke-width="0.9"/>
<line x1="793.73" y1="828.08" x2="788.2" y2="831.1" stroke="#3a6ac0" stroke-width="0.9"/>
<path d="M813.51,814.6 L815.96,810.59 L820.66,810.7 L822.91,814.82 L820.47,818.84 L815.77,818.72 Z" fill="#8a8c9a" fill-opacity="0.12" stroke="#8a8c9a" stroke-width="1.15"/>
<path d="M806.56,810.36 L809.01,806.35 L813.71,806.46 L815.96,810.59 L813.51,814.6 L808.82,814.49 Z" fill="#6f8db5" fill-opacity="0.12" stroke="#6f8db5" stroke-width="1.15"/>
<line x1="811.36" y1="806.4" x2="811.42" y2="803.91" stroke="#8a8c9a" stroke-width="0.9"/>
<path d="M811.64,794.51 L815.65,796.95 L815.54,801.65 L811.42,803.91 L807.4,801.46 L807.52,796.76 Z" fill="#e48a95" fill-opacity="0.12" stroke="#e48a95" stroke-width="1.15"/>
<path d="M793.73,828.08 L793.84,823.38 L797.97,821.13 L801.98,823.58 L801.87,828.27 L797.74,830.53 Z" fill="#d6b22e" fill-opacity="0.12" stroke="#d6b22e" stroke-width="1.25"/>
<path d="M795.27,600.15 L791.2,602.5 L787.13,600.15 L787.13,595.45 L791.2,593.1 L795.27,595.45 Z" fill="#3d8ad4" fill-opacity="0.12" stroke="#3d8ad4" stroke-width="1.3"/>
<path d="M755.17,669.65 L751.1,672 L747.03,669.65 L747.03,664.95 L751.1,662.6 L755.17,664.95 Z" fill="#3d8ad4" fill-opacity="0.12" stroke="#3d8ad4" stroke-width="1.3"/>
<path d="M835.47,671.25 L831.4,673.6 L827.33,671.25 L827.33,666.55 L831.4,664.2 L835.47,666.55 Z" fill="#3d8ad4" fill-opacity="0.12" stroke="#3d8ad4" stroke-width="1.3"/>
<path d="M713.47,739.25 L709.4,741.6 L705.33,739.25 L705.33,734.55 L709.4,732.2 L713.47,734.55 Z" fill="#3d8ad4" fill-opacity="0.12" stroke="#3d8ad4" stroke-width="1.3"/>
<path d="M793.77,739.25 L789.7,741.6 L785.63,739.25 L785.63,734.55 L789.7,732.2 L793.77,734.55 Z" fill="#3d8ad4" fill-opacity="0.12" stroke="#3d8ad4" stroke-width="1.3"/>
<path d="M874.07,740.75 L870,743.1 L865.93,740.75 L865.93,736.05 L870,733.7 L874.07,736.05 Z" fill="#3d8ad4" fill-opacity="0.12" stroke="#3d8ad4" stroke-width="1.3"/>
<path d="M752.07,808.75 L748,811.1 L743.93,808.75 L743.93,804.05 L748,801.7 L752.07,804.05 Z" fill="#3d8ad4" fill-opacity="0.12" stroke="#3d8ad4" stroke-width="1.3"/>
<path d="M834.57,810.35 L830.5,812.7 L826.43,810.35 L826.43,805.65 L830.5,803.3 L834.57,805.65 Z" fill="#3d8ad4" fill-opacity="0.12" stroke="#3d8ad4" stroke-width="1.3"/>
<path d="M736.63,612.04 L740.62,609.55 L744.77,611.75 L744.94,616.45 L740.95,618.94 L736.8,616.74 Z" fill="#d6b22e" fill-opacity="0.12" stroke="#d6b22e" stroke-width="1.25"/>
<line x1="750.5" y1="619.4" x2="744.94" y2="616.45" stroke="#3a6ac0" stroke-width="0.9"/>
<path d="M845.27,616.74 L845.1,621.44 L840.95,623.64 L836.96,621.15 L837.13,616.45 L841.28,614.25 Z" fill="#d6b22e" fill-opacity="0.12" stroke="#d6b22e" stroke-width="1.25"/>
<line x1="831.4" y1="624.1" x2="836.96" y2="621.15" stroke="#3a6ac0" stroke-width="0.9"/>
<path d="M695.53,681.64 L699.52,679.15 L703.67,681.35 L703.84,686.05 L699.85,688.54 L695.7,686.34 Z" fill="#d6b22e" fill-opacity="0.12" stroke="#d6b22e" stroke-width="1.25"/>
<line x1="709.4" y1="689" x2="703.84" y2="686.05" stroke="#3a6ac0" stroke-width="0.9"/>
<path d="M885.47,683.14 L885.3,687.84 L881.15,690.04 L877.16,687.55 L877.33,682.85 L881.48,680.65 Z" fill="#d6b22e" fill-opacity="0.12" stroke="#d6b22e" stroke-width="1.25"/>
<line x1="871.6" y1="690.5" x2="877.16" y2="687.55" stroke="#3a6ac0" stroke-width="0.9"/>
<path d="M788.2,846.8 L784.13,844.45 L784.13,839.75 L788.2,837.4 L792.27,839.75 L792.27,844.45 Z" fill="#d6b22e" fill-opacity="0.12" stroke="#d6b22e" stroke-width="1.25"/>
<line x1="788.2" y1="831.1" x2="788.2" y2="837.4" stroke="#3a6ac0" stroke-width="0.9"/>
<circle cx="750.5" cy="619.4" r="1.4" fill="#2a62c8"/>
<circle cx="831.4" cy="624.1" r="1.4" fill="#2a62c8"/>
<circle cx="709.4" cy="689" r="1.4" fill="#2a62c8"/>
<circle cx="789.7" cy="692.1" r="1.4" fill="#2a62c8"/>
<circle cx="871.6" cy="690.5" r="1.4" fill="#2a62c8"/>
<circle cx="749.5" cy="760" r="1.4" fill="#2a62c8"/>
<circle cx="830.5" cy="761.6" r="1.4" fill="#2a62c8"/>
<circle cx="788.2" cy="831.1" r="1.4" fill="#2a62c8"/>
<path d="M741.4,561.48 A153.8,153.8 0 0 0 643.52,737.77" stroke="#000" stroke-width="1.4" fill="none"/>
<path d="M645.37,745.55 L637.77,737.28 L642.3,737.84 L645.2,734.31 Z" fill="#000"/>
<path d="M672.8,800.69 A153.8,153.8 0 0 0 915.89,799.8" stroke="#000" stroke-width="1.4" fill="none"/>
<path d="M920.6,793.33 L919.25,804.49 L916.73,800.68 L912.17,800.76 Z" fill="#000"/>
<path d="M945.27,733.76 A153.8,153.8 0 0 0 847.06,561.64" stroke="#000" stroke-width="1.4" fill="none"/>
<path d="M839.48,559.08 L850.53,557.03 L847.64,560.57 L849.09,564.9 Z" fill="#000"/>
<text x="0" y="0" font-size="17" text-anchor="middle" font-weight="normal" fill="#000" transform="translate(791 552.7) scale(1.03 1)">TFPA-TAPT-</text>
<text x="0" y="0" font-size="17" text-anchor="middle" font-weight="normal" fill="#000" transform="translate(792.5 573) scale(1.03 1)">COF-Q<tspan font-size="14" dy="-3">*</tspan></text>
<text x="0" y="0" font-size="17" text-anchor="middle" font-weight="normal" fill="#000" transform="translate(652.1 766.5) scale(1.03 1)">TFPA-TAPT-</text>
<text x="0" y="0" font-size="17" text-anchor="middle" font-weight="normal" fill="#000" transform="translate(652.5 791.3) scale(1.03 1)">COF-Q<tspan font-size="11" dy="-7">+</tspan></text>
<text x="0" y="0" font-size="17" text-anchor="middle" font-weight="normal" fill="#000" transform="translate(934.3 768.8) scale(1.03 1)">TFPA-TAPT-</text>
<text x="0" y="0" font-size="17" text-anchor="middle" font-weight="normal" fill="#000" transform="translate(936 787.5) scale(1.03 1)">COF-Q</text>
<text x="0" y="0" font-size="16.3" text-anchor="start" font-weight="normal" fill="#000" transform="translate(990.8 560.8) scale(1.08 1)">Excited state</text>
<rect x="988.6" y="567.8" width="118.4" height="4" fill="#e8892c"/>
<text x="0" y="0" font-size="16.4" text-anchor="start" font-weight="normal" fill="#000" transform="translate(989.6 778.8) scale(1.07 1)">Ground state</text>
<rect x="988" y="788.3" width="119" height="4" fill="#e8892c"/>
<circle cx="1145.7" cy="563.4" r="12.2" fill="none" stroke="#000" stroke-width="1.3"/>
<text x="1145.2" y="567.8" font-size="12.5" text-anchor="middle">e<tspan font-size="9" dy="-5">-</tspan></text>
<circle cx="1145.7" cy="785.2" r="12.2" fill="none" stroke="#000" stroke-width="1.3"/>
<text x="1145.5" y="789.6" font-size="12.5" text-anchor="middle">h<tspan font-size="9" dy="-5">+</tspan></text>
<rect x="1039.9" y="620" width="5.6" height="115.7" fill="#000"/>
<path d="M1042.7,604.2 L1053.4,624.5 L1032,624.5 Z" fill="#000"/>
<path d="M1115.9,574.9 L1121.87,590.49 L1137.11,583.69 L1130.31,598.93 L1145.9,604.9 L1130.31,610.87 L1137.11,626.11 L1121.87,619.31 L1115.9,634.9 L1109.93,619.31 L1094.69,626.11 L1101.49,610.87 L1085.9,604.9 L1101.49,598.93 L1094.69,583.69 L1109.93,590.49 Z" fill="#b68f18"/>
<circle cx="1115.9" cy="604.9" r="10.4" fill="#f4ecee" stroke="#f0c39a" stroke-width="2.2"/>
<path d="M1089.19,627.5 L1101.24,644.82 L1086.83,652.86 L1089.61,659.79 L1074.64,670.04 L1078.24,674.2 L1047.21,695.81 L1068.41,665.33 L1067.02,662.56 L1080.18,651.75 L1077.69,646.49 Z" fill="#f7b622" stroke="#b8601e" stroke-width="2.5" stroke-linejoin="miter"/>
<path d="M1256,624.5 L1276.35,636.25 L1276.35,659.75 L1256,671.5 L1235.65,659.75 L1235.65,636.25 Z" fill="none" stroke="#000" stroke-width="1.25" stroke-linejoin="miter"/>
<line x1="1240.11" y1="657.16" x2="1240.11" y2="638.84" stroke="#000" stroke-width="1.25"/>
<line x1="1256.01" y1="629.66" x2="1271.88" y2="638.82" stroke="#000" stroke-width="1.25"/>
<line x1="1271.88" y1="657.18" x2="1256.01" y2="666.34" stroke="#000" stroke-width="1.25"/>
<path d="M1276.35,636.25 L1296,625" stroke="#000" stroke-width="1.25" fill="none" stroke-linejoin="miter"/>
<circle cx="1304.1" cy="623.3" r="1.4" fill="#000"/>
<path d="M1235.65,659.75 L1221.2,667.4" stroke="#000" stroke-width="1.25" fill="none" stroke-linejoin="miter"/>
<text x="1220.5" y="676.3" font-size="12.3" text-anchor="end" font-weight="normal" fill="#000">MeO</text>
<path d="M1419.4,487.2 L1439.32,498.7 L1439.32,521.7 L1419.4,533.2 L1399.48,521.7 L1399.48,498.7 Z" fill="none" stroke="#000" stroke-width="1.25" stroke-linejoin="miter"/>
<line x1="1403.85" y1="519.17" x2="1403.85" y2="501.23" stroke="#000" stroke-width="1.25"/>
<line x1="1419.41" y1="492.25" x2="1434.94" y2="501.22" stroke="#000" stroke-width="1.25"/>
<line x1="1434.94" y1="519.18" x2="1419.41" y2="528.15" stroke="#000" stroke-width="1.25"/>
<path d="M1439.32,498.7 L1460.1,487.2 L1473.6,494.8" stroke="#000" stroke-width="1.25" fill="none" stroke-linejoin="miter"/>
<text x="1480.2" y="502.9" font-size="12.3" text-anchor="middle" font-weight="normal" fill="#000">O</text>
<path d="M1486.2,493.4 L1495.3,488.6" stroke="#000" stroke-width="1.25" fill="none" stroke-linejoin="miter"/>
<text x="1501" y="491.2" font-size="12.3" text-anchor="middle" font-weight="normal" fill="#000">O</text>
<rect x="1507.5" y="478.3" width="6.5" height="1.8" fill="#000"/>
<path d="M1399.48,521.7 L1384,530" stroke="#000" stroke-width="1.25" fill="none" stroke-linejoin="miter"/>
<text x="1383.8" y="538.2" font-size="12.3" text-anchor="end" font-weight="normal" fill="#000">MeO</text>
<path d="M1583,567 L1602.92,578.5 L1602.92,601.5 L1583,613 L1563.08,601.5 L1563.08,578.5 Z" fill="none" stroke="#000" stroke-width="1.25" stroke-linejoin="miter"/>
<line x1="1567.45" y1="598.97" x2="1567.45" y2="581.03" stroke="#000" stroke-width="1.25"/>
<line x1="1583.01" y1="572.05" x2="1598.54" y2="581.02" stroke="#000" stroke-width="1.25"/>
<line x1="1598.54" y1="598.98" x2="1583.01" y2="607.95" stroke="#000" stroke-width="1.25"/>
<path d="M1602.92,578.5 L1623.9,566.8 L1638.5,574.8" stroke="#000" stroke-width="1.25" fill="none" stroke-linejoin="miter"/>
<path d="M1623.9,566.8 L1623.9,553.8" stroke="#000" stroke-width="1.25" fill="none" stroke-linejoin="miter"/>
<text x="1623.9" y="548.6" font-size="12.3" text-anchor="middle" font-weight="normal" fill="#000">H</text>
<text x="1644" y="582.4" font-size="12.3" text-anchor="middle" font-weight="normal" fill="#000">O</text>
<path d="M1650.3,573.6 L1659.3,568.8" stroke="#000" stroke-width="1.25" fill="none" stroke-linejoin="miter"/>
<text x="1660" y="571.4" font-size="12.3" text-anchor="start" font-weight="normal" fill="#000">OH</text>
<path d="M1563.08,601.5 L1549,609.5" stroke="#000" stroke-width="1.25" fill="none" stroke-linejoin="miter"/>
<text x="1548.2" y="618.3" font-size="12.3" text-anchor="end" font-weight="normal" fill="#000">MeO</text>
<path d="M1432.6,703.3 L1420.8,723.74 L1397.2,723.74 L1385.4,703.3 L1397.2,682.86 L1420.8,682.86 Z" fill="none" stroke="#000" stroke-width="1.25" stroke-linejoin="miter"/>
<line x1="1399.8" y1="687.35" x2="1418.2" y2="687.35" stroke="#000" stroke-width="1.25"/>
<line x1="1399.79" y1="719.25" x2="1390.58" y2="703.31" stroke="#000" stroke-width="1.25"/>
<line x1="1427.42" y1="703.31" x2="1418.21" y2="719.25" stroke="#000" stroke-width="1.25"/>
<path d="M1420.8,682.86 L1433.2,663.5 L1450.4,663.5" stroke="#000" stroke-width="1.25" fill="none" stroke-linejoin="miter"/>
<text x="1451.5" y="667.8" font-size="12.3" text-anchor="start" font-weight="normal" fill="#000">OH</text>
<path d="M1397.2,723.74 L1388.7,736.8" stroke="#000" stroke-width="1.25" fill="none" stroke-linejoin="miter"/>
<text x="1389.5" y="748" font-size="12.3" text-anchor="end" font-weight="normal" fill="#000">MeO</text>
<path d="M1611.6,732.4 L1631.17,743.7 L1631.17,766.3 L1611.6,777.6 L1592.03,766.3 L1592.03,743.7 Z" fill="none" stroke="#000" stroke-width="1.25" stroke-linejoin="miter"/>
<line x1="1596.32" y1="763.81" x2="1596.32" y2="746.19" stroke="#000" stroke-width="1.25"/>
<line x1="1611.61" y1="737.36" x2="1626.87" y2="746.18" stroke="#000" stroke-width="1.25"/>
<line x1="1626.87" y1="763.82" x2="1611.61" y2="772.64" stroke="#000" stroke-width="1.25"/>
<path d="M1631.17,743.7 L1646.5,735.3" stroke="#000" stroke-width="1.25" fill="none" stroke-linejoin="miter"/>
<text x="1647.8" y="736.2" font-size="12.3" text-anchor="start" font-weight="normal" fill="#000">CHO</text>
<path d="M1592.03,766.3 L1576.6,775" stroke="#000" stroke-width="1.25" fill="none" stroke-linejoin="miter"/>
<text x="1576" y="783.2" font-size="12.3" text-anchor="end" font-weight="normal" fill="#000">MeO</text>
<path d="M1290.8,811.6 L1311.41,823.5 L1311.41,847.3 L1290.8,859.2 L1270.19,847.3 L1270.19,823.5 Z" fill="none" stroke="#000" stroke-width="1.25" stroke-linejoin="miter"/>
<line x1="1274.71" y1="844.68" x2="1274.71" y2="826.12" stroke="#000" stroke-width="1.25"/>
<line x1="1290.81" y1="816.83" x2="1306.88" y2="826.11" stroke="#000" stroke-width="1.25"/>
<line x1="1306.88" y1="844.69" x2="1290.81" y2="853.97" stroke="#000" stroke-width="1.25"/>
<path d="M1311.41,823.5 L1332.5,811.6 L1346.5,821" stroke="#000" stroke-width="1.25" fill="none" stroke-linejoin="miter"/>
<text x="1347" y="827.6" font-size="12.3" text-anchor="start" font-weight="normal" fill="#000">COO</text>
<rect x="1383.2" y="813.4" width="6.3" height="1.2" fill="#000"/>
<path d="M1270.19,847.3 L1256.5,855.5" stroke="#000" stroke-width="1.25" fill="none" stroke-linejoin="miter"/>
<text x="1256.5" y="862.5" font-size="12.3" text-anchor="end" font-weight="normal" fill="#000">MeO</text>
<path d="M1532.7,855.3 L1552.62,866.8 L1552.62,889.8 L1532.7,901.3 L1512.78,889.8 L1512.78,866.8 Z" fill="none" stroke="#000" stroke-width="1.25" stroke-linejoin="miter"/>
<line x1="1517.15" y1="887.27" x2="1517.15" y2="869.33" stroke="#000" stroke-width="1.25"/>
<line x1="1532.71" y1="860.35" x2="1548.24" y2="869.32" stroke="#000" stroke-width="1.25"/>
<line x1="1548.24" y1="887.28" x2="1532.71" y2="896.25" stroke="#000" stroke-width="1.25"/>
<path d="M1552.62,866.8 L1573.5,855.4 L1587.2,864" stroke="#000" stroke-width="1.25" fill="none" stroke-linejoin="miter"/>
<text x="1588.8" y="871.2" font-size="12.3" text-anchor="start" font-weight="normal" fill="#000">COOH</text>
<path d="M1512.78,889.8 L1497.5,899" stroke="#000" stroke-width="1.25" fill="none" stroke-linejoin="miter"/>
<text x="1497.5" y="906.4" font-size="12.3" text-anchor="end" font-weight="normal" fill="#000">MeO</text>
<text x="1102.5" y="494.6" font-size="12.3" text-anchor="start" font-weight="normal" fill="#000">O<tspan font-size="8.5" dy="3">2</tspan></text>
<text x="1202.5" y="560.8" font-size="12.3" text-anchor="start" font-weight="normal" fill="#000">O<tspan font-size="8.5" dy="3">2</tspan><tspan font-size="13" dy="-3">&#8226;</tspan><tspan font-size="9" dy="-3.5">-</tspan></text>
<text x="1544.5" y="515" font-size="12.3">H<tspan font-size="8.5" dy="-5">+</tspan></text>
<text x="1295.5" y="686" font-size="12.3" text-anchor="start" font-weight="normal" fill="#000">O<tspan font-size="8.5" dy="3">2</tspan><tspan dy="-3">/H</tspan><tspan font-size="8.5" dy="3">2</tspan><tspan dy="-3">O</tspan></text>
<text x="1591.5" y="673" font-size="12.3" text-anchor="start" font-weight="normal" fill="#000">O<tspan font-size="8.5" dy="3">2</tspan></text>
<text x="1634" y="673" font-size="12.3" text-anchor="start" font-weight="normal" fill="#000">-H<tspan font-size="8.5" dy="3">2</tspan><tspan dy="-3">O</tspan></text>
<text x="1477.5" y="712.4" font-size="12.4" text-anchor="start" font-weight="normal" fill="#000">Further</text>
<text x="1477.5" y="727.4" font-size="12.4" text-anchor="start" font-weight="normal" fill="#000">Oxidation</text>
<text x="1389.5" y="864.2" font-size="12.3" text-anchor="start" font-weight="normal" fill="#000">TMG</text>
<text x="1380" y="907" font-size="12.3">-H<tspan font-size="8.5" dy="-5">+</tspan></text>
<path d="M1120.7,511.7 Q1146,546 1179.93,549.07" stroke="#000" stroke-width="1.3" fill="none"/>
<path d="M1186.9,549.7 L1177.11,552.43 L1179.63,549.04 L1177.76,545.26 Z" fill="#000"/>
<path d="M1238.4,557.2 Q1266,563 1286.9,556.64" stroke="#000" stroke-width="1.3" fill="none"/>
<path d="M1293.6,554.6 L1285.56,560.81 L1286.62,556.73 L1283.46,553.92 Z" fill="#000"/>
<path d="M1259.2,607.4 Q1288,545 1340.01,519.67" stroke="#000" stroke-width="1.3" fill="none"/>
<path d="M1346.3,516.6 L1339.34,524 L1339.74,519.8 L1336.18,517.52 Z" fill="#000"/>
<path d="M1505.5,510.5 Q1540,519 1556.23,539.33" stroke="#000" stroke-width="1.3" fill="none"/>
<path d="M1560.6,544.8 L1551.86,539.62 L1556.05,539.1 L1557.49,535.13 Z" fill="#000"/>
<path d="M1618.3,631.8 Q1628,668 1624.92,702.93" stroke="#000" stroke-width="1.3" fill="none"/>
<path d="M1624.3,709.9 L1621.55,700.12 L1624.94,702.63 L1628.72,700.75 Z" fill="#000"/>
<path d="M1272.2,681.3 Q1312,708 1363.7,706.06" stroke="#000" stroke-width="1.3" fill="none"/>
<path d="M1370.7,705.8 L1361.34,709.75 L1363.41,706.07 L1361.07,702.56 Z" fill="#000"/>
<path d="M1446.4,729 Q1492,756 1545.8,756.88" stroke="#000" stroke-width="1.3" fill="none" stroke-dasharray="3.2,3"/>
<path d="M1552.8,757 L1543.24,760.44 L1545.5,756.88 L1543.36,753.24 Z" fill="#000"/>
<path d="M1454.9,881.5 Q1398,884 1346.93,862.06" stroke="#000" stroke-width="1.3" fill="none"/>
<path d="M1340.5,859.3 L1350.65,859.74 L1347.21,862.18 L1347.81,866.36 Z" fill="#000"/>
<path d="M1279.2,806 Q1234,724.5 1240.4,687.8" stroke="#000" stroke-width="1.3" fill="none"/>
<path d="M1241.6,680.9 L1243.52,690.88 L1240.35,688.09 L1236.42,689.64 Z" fill="#000"/>
<path d="M1268.8,790 Q1233.6,768.8 1201.27,787.32" stroke="#000" stroke-width="1.3" fill="none"/>
<path d="M1195.2,790.8 L1201.65,782.95 L1201.53,787.17 L1205.23,789.2 Z" fill="#000"/>
</svg>
</body></html>
